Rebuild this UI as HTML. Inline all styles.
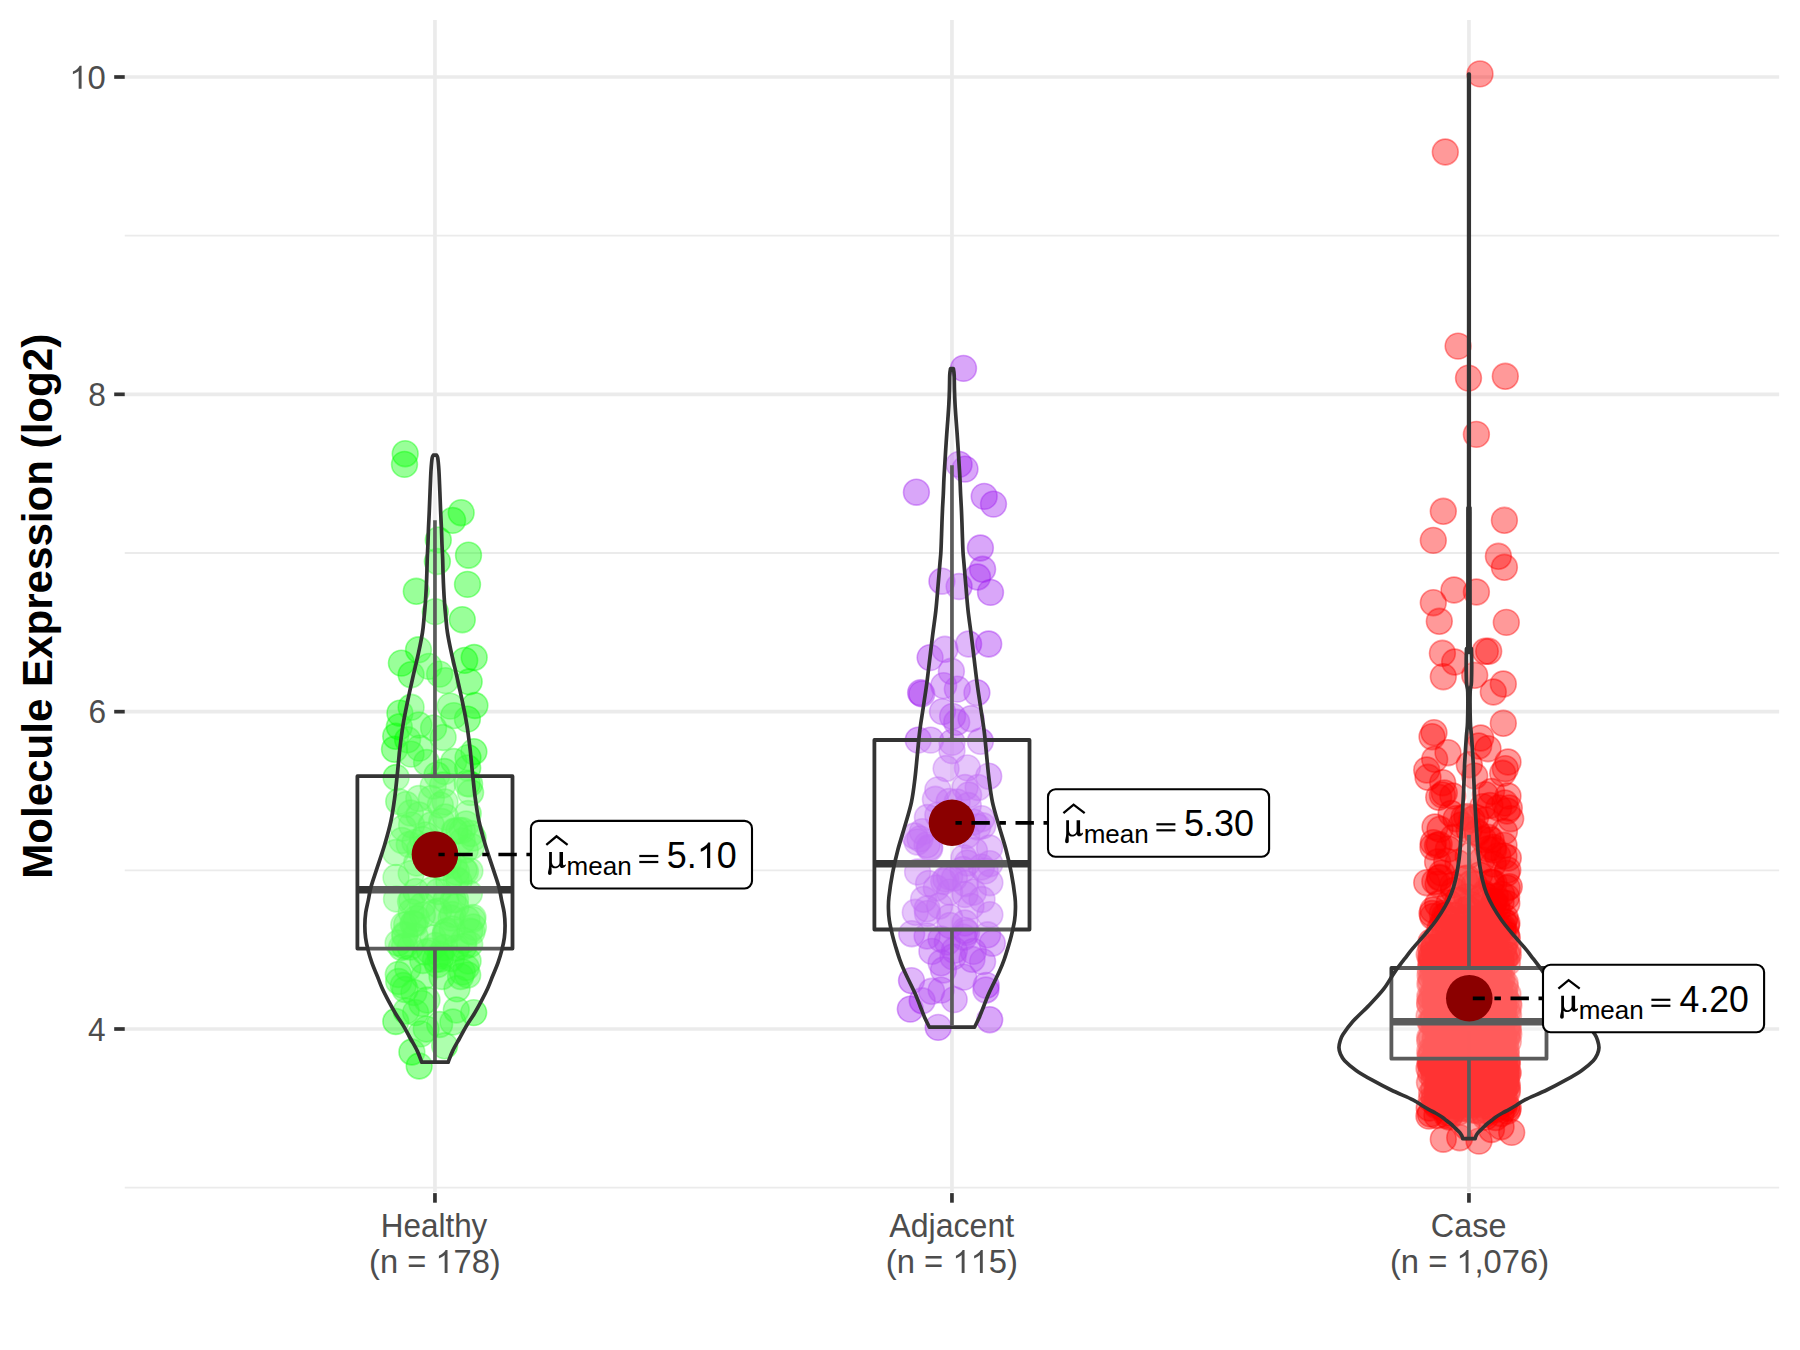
<!DOCTYPE html>
<html><head><meta charset="utf-8"><style>html,body{margin:0;padding:0;background:#fff;}svg{display:block;}</style></head><body>
<svg width="1800" height="1350" viewBox="0 0 1800 1350">
<rect width="1800" height="1350" fill="#fff"/>
<line x1="124.75" x2="1779.15" y1="1187.67" y2="1187.67" stroke="#EBEBEB" stroke-width="1.9"/>
<line x1="124.75" x2="1779.15" y1="870.34" y2="870.34" stroke="#EBEBEB" stroke-width="1.9"/>
<line x1="124.75" x2="1779.15" y1="553.00" y2="553.00" stroke="#EBEBEB" stroke-width="1.9"/>
<line x1="124.75" x2="1779.15" y1="235.67" y2="235.67" stroke="#EBEBEB" stroke-width="1.9"/>
<line x1="124.75" x2="1779.15" y1="1029.00" y2="1029.00" stroke="#EBEBEB" stroke-width="3.6"/>
<line x1="124.75" x2="1779.15" y1="711.67" y2="711.67" stroke="#EBEBEB" stroke-width="3.6"/>
<line x1="124.75" x2="1779.15" y1="394.33" y2="394.33" stroke="#EBEBEB" stroke-width="3.6"/>
<line x1="124.75" x2="1779.15" y1="77.00" y2="77.00" stroke="#EBEBEB" stroke-width="3.6"/>
<line x1="434.95" x2="434.95" y1="20" y2="1192" stroke="#EBEBEB" stroke-width="3.7"/>
<line x1="951.95" x2="951.95" y1="20" y2="1192" stroke="#EBEBEB" stroke-width="3.7"/>
<line x1="1468.95" x2="1468.95" y1="20" y2="1192" stroke="#EBEBEB" stroke-width="3.7"/>
<line x1="114.2" x2="124.75" y1="1029.00" y2="1029.00" stroke="#333" stroke-width="3.7"/>
<line x1="114.2" x2="124.75" y1="711.67" y2="711.67" stroke="#333" stroke-width="3.7"/>
<line x1="114.2" x2="124.75" y1="394.33" y2="394.33" stroke="#333" stroke-width="3.7"/>
<line x1="114.2" x2="124.75" y1="77.00" y2="77.00" stroke="#333" stroke-width="3.7"/>
<line x1="434.95" x2="434.95" y1="1193.1" y2="1202.7" stroke="#333" stroke-width="3.7"/>
<line x1="951.95" x2="951.95" y1="1193.1" y2="1202.7" stroke="#333" stroke-width="3.7"/>
<line x1="1468.95" x2="1468.95" y1="1193.1" y2="1202.7" stroke="#333" stroke-width="3.7"/>
<text x="69.32" y="88.80" font-family='"Liberation Sans", sans-serif' font-size="33.33" fill="#4D4D4D" textLength="36.57" lengthAdjust="spacingAndGlyphs"> 0</text><path d="M81.57,88.80 L78.68,88.80 L78.68,70.93 C77.99,71.57 77.07,72.21 75.95,72.85 C74.81,73.49 73.80,73.97 72.90,74.30 L72.90,71.59 C74.52,70.85 75.93,69.95 77.14,68.91 C78.34,67.86 79.19,66.85 79.69,65.87 L81.57,65.87 Z" fill="#4D4D4D"/>
<text x="88.37" y="406.13" font-family='"Liberation Sans", sans-serif' font-size="33.33" fill="#4D4D4D" textLength="17.61" lengthAdjust="spacingAndGlyphs">8</text>
<text x="88.38" y="723.47" font-family='"Liberation Sans", sans-serif' font-size="33.33" fill="#4D4D4D" textLength="17.61" lengthAdjust="spacingAndGlyphs">6</text>
<text x="87.92" y="1040.80" font-family='"Liberation Sans", sans-serif' font-size="33.33" fill="#4D4D4D" textLength="17.61" lengthAdjust="spacingAndGlyphs">4</text>
<text x="380.72" y="1236.70" font-family='"Liberation Sans", sans-serif' font-size="33.33" fill="#4D4D4D" textLength="106.64" lengthAdjust="spacingAndGlyphs">Healthy</text>
<text x="369.07" y="1272.90" font-family='"Liberation Sans", sans-serif' font-size="33.33" fill="#4D4D4D" textLength="131.65" lengthAdjust="spacingAndGlyphs">(n =  78)</text><path d="M447.52,1272.90 L444.65,1272.90 L444.65,1255.03 C443.96,1255.67 443.05,1256.31 441.93,1256.95 C440.80,1257.59 439.80,1258.07 438.90,1258.40 L438.90,1255.69 C440.51,1254.95 441.92,1254.05 443.11,1253.01 C444.31,1251.96 445.16,1250.95 445.65,1249.97 L447.52,1249.97 Z" fill="#4D4D4D"/>
<text x="889.34" y="1236.70" font-family='"Liberation Sans", sans-serif' font-size="33.33" fill="#4D4D4D" textLength="124.90" lengthAdjust="spacingAndGlyphs">Adjacent</text>
<text x="885.87" y="1272.90" font-family='"Liberation Sans", sans-serif' font-size="33.33" fill="#4D4D4D" textLength="132.06" lengthAdjust="spacingAndGlyphs">(n =   5)</text><path d="M964.56,1272.90 L961.68,1272.90 L961.68,1255.03 C960.99,1255.67 960.08,1256.31 958.96,1256.95 C957.82,1257.59 956.81,1258.07 955.92,1258.40 L955.92,1255.69 C957.53,1254.95 958.94,1254.05 960.14,1253.01 C961.34,1251.96 962.19,1250.95 962.68,1249.97 L964.56,1249.97 Z" fill="#4D4D4D"/><path d="M982.78,1272.90 L979.90,1272.90 L979.90,1255.03 C979.21,1255.67 978.30,1256.31 977.18,1256.95 C976.04,1257.59 975.04,1258.07 974.14,1258.40 L974.14,1255.69 C975.76,1254.95 977.16,1254.05 978.36,1253.01 C979.56,1251.96 980.41,1250.95 980.91,1249.97 L982.78,1249.97 Z" fill="#4D4D4D"/>
<text x="1430.86" y="1236.70" font-family='"Liberation Sans", sans-serif' font-size="33.33" fill="#4D4D4D" textLength="75.58" lengthAdjust="spacingAndGlyphs">Case</text>
<text x="1389.97" y="1272.90" font-family='"Liberation Sans", sans-serif' font-size="33.33" fill="#4D4D4D" textLength="159.06" lengthAdjust="spacingAndGlyphs">(n =  ,076)</text><path d="M1468.49,1272.90 L1465.62,1272.90 L1465.62,1255.03 C1464.93,1255.67 1464.02,1256.31 1462.91,1256.95 C1461.77,1257.59 1460.77,1258.07 1459.87,1258.40 L1459.87,1255.69 C1461.48,1254.95 1462.89,1254.05 1464.09,1253.01 C1465.28,1251.96 1466.13,1250.95 1466.63,1249.97 L1468.49,1249.97 Z" fill="#4D4D4D"/>
<g transform="translate(52,876) rotate(-90)"><text x="-2.82" y="0.00" font-family='"Liberation Sans", sans-serif' font-weight="bold" font-size="42.2" fill="#000" textLength="545.01" lengthAdjust="spacingAndGlyphs">Molecule Expression (log2)</text></g>
<g fill="rgba(0,255,0,0.4)" stroke="rgba(0,255,0,0.4)" stroke-width="1.6">
<circle cx="462.3" cy="972.0" r="12.9"/>
<circle cx="435.5" cy="959.5" r="12.9"/>
<circle cx="469.6" cy="784.0" r="12.9"/>
<circle cx="473.7" cy="1012.6" r="12.9"/>
<circle cx="419.4" cy="748.1" r="12.9"/>
<circle cx="415.0" cy="924.0" r="12.9"/>
<circle cx="458.9" cy="830.5" r="12.9"/>
<circle cx="438.2" cy="891.5" r="12.9"/>
<circle cx="445.0" cy="802.0" r="12.9"/>
<circle cx="437.4" cy="561.5" r="12.9"/>
<circle cx="472.4" cy="919.5" r="12.9"/>
<circle cx="411.1" cy="707.3" r="12.9"/>
<circle cx="396.1" cy="777.5" r="12.9"/>
<circle cx="460.6" cy="976.5" r="12.9"/>
<circle cx="467.7" cy="975.0" r="12.9"/>
<circle cx="404.5" cy="464.4" r="12.9"/>
<circle cx="403.8" cy="925.0" r="12.9"/>
<circle cx="410.4" cy="813.0" r="12.9"/>
<circle cx="421.8" cy="1003.5" r="12.9"/>
<circle cx="443.1" cy="737.5" r="12.9"/>
<circle cx="412.8" cy="924.0" r="12.9"/>
<circle cx="445.1" cy="935.0" r="12.9"/>
<circle cx="396.0" cy="877.5" r="12.9"/>
<circle cx="456.3" cy="1010.0" r="12.9"/>
<circle cx="438.3" cy="540.0" r="12.9"/>
<circle cx="394.5" cy="749.3" r="12.9"/>
<circle cx="442.2" cy="867.5" r="12.9"/>
<circle cx="444.4" cy="771.5" r="12.9"/>
<circle cx="419.2" cy="1066.0" r="12.9"/>
<circle cx="416.6" cy="918.5" r="12.9"/>
<circle cx="452.9" cy="1022.0" r="12.9"/>
<circle cx="473.4" cy="927.0" r="12.9"/>
<circle cx="405.2" cy="453.7" r="12.9"/>
<circle cx="411.2" cy="873.5" r="12.9"/>
<circle cx="473.0" cy="917.5" r="12.9"/>
<circle cx="416.7" cy="863.0" r="12.9"/>
<circle cx="463.9" cy="940.5" r="12.9"/>
<circle cx="467.7" cy="768.0" r="12.9"/>
<circle cx="427.0" cy="1000.0" r="12.9"/>
<circle cx="446.0" cy="900.5" r="12.9"/>
<circle cx="464.0" cy="870.0" r="12.9"/>
<circle cx="465.3" cy="850.0" r="12.9"/>
<circle cx="463.8" cy="946.5" r="12.9"/>
<circle cx="455.9" cy="907.0" r="12.9"/>
<circle cx="431.6" cy="890.0" r="12.9"/>
<circle cx="418.8" cy="725.0" r="12.9"/>
<circle cx="404.6" cy="946.0" r="12.9"/>
<circle cx="398.1" cy="943.0" r="12.9"/>
<circle cx="468.0" cy="757.6" r="12.9"/>
<circle cx="465.5" cy="871.5" r="12.9"/>
<circle cx="433.6" cy="728.0" r="12.9"/>
<circle cx="439.6" cy="1024.5" r="12.9"/>
<circle cx="433.1" cy="938.0" r="12.9"/>
<circle cx="395.7" cy="852.5" r="12.9"/>
<circle cx="472.0" cy="932.0" r="12.9"/>
<circle cx="467.4" cy="719.1" r="12.9"/>
<circle cx="448.9" cy="881.5" r="12.9"/>
<circle cx="429.6" cy="951.0" r="12.9"/>
<circle cx="447.0" cy="931.0" r="12.9"/>
<circle cx="448.3" cy="862.0" r="12.9"/>
<circle cx="422.4" cy="915.0" r="12.9"/>
<circle cx="411.1" cy="674.7" r="12.9"/>
<circle cx="452.6" cy="520.4" r="12.9"/>
<circle cx="419.7" cy="849.0" r="12.9"/>
<circle cx="402.0" cy="840.5" r="12.9"/>
<circle cx="404.8" cy="934.5" r="12.9"/>
<circle cx="431.3" cy="825.0" r="12.9"/>
<circle cx="435.5" cy="945.5" r="12.9"/>
<circle cx="461.2" cy="512.7" r="12.9"/>
<circle cx="444.4" cy="947.5" r="12.9"/>
<circle cx="431.4" cy="798.5" r="12.9"/>
<circle cx="411.6" cy="825.0" r="12.9"/>
<circle cx="469.4" cy="893.5" r="12.9"/>
<circle cx="452.6" cy="914.5" r="12.9"/>
<circle cx="420.8" cy="1033.9" r="12.9"/>
<circle cx="416.3" cy="591.3" r="12.9"/>
<circle cx="455.3" cy="831.5" r="12.9"/>
<circle cx="426.6" cy="762.5" r="12.9"/>
<circle cx="470.9" cy="833.5" r="12.9"/>
<circle cx="403.3" cy="985.5" r="12.9"/>
<circle cx="467.5" cy="584.4" r="12.9"/>
<circle cx="459.0" cy="881.5" r="12.9"/>
<circle cx="453.8" cy="761.5" r="12.9"/>
<circle cx="467.2" cy="783.5" r="12.9"/>
<circle cx="456.3" cy="948.0" r="12.9"/>
<circle cx="457.0" cy="988.8" r="12.9"/>
<circle cx="406.1" cy="804.5" r="12.9"/>
<circle cx="425.5" cy="835.0" r="12.9"/>
<circle cx="395.8" cy="1021.5" r="12.9"/>
<circle cx="424.0" cy="976.5" r="12.9"/>
<circle cx="410.5" cy="901.5" r="12.9"/>
<circle cx="440.4" cy="954.0" r="12.9"/>
<circle cx="468.5" cy="555.2" r="12.9"/>
<circle cx="418.8" cy="798.5" r="12.9"/>
<circle cx="462.2" cy="841.0" r="12.9"/>
<circle cx="469.2" cy="681.8" r="12.9"/>
<circle cx="442.0" cy="976.5" r="12.9"/>
<circle cx="414.9" cy="842.5" r="12.9"/>
<circle cx="399.9" cy="713.2" r="12.9"/>
<circle cx="409.2" cy="844.5" r="12.9"/>
<circle cx="405.1" cy="989.5" r="12.9"/>
<circle cx="441.7" cy="821.5" r="12.9"/>
<circle cx="419.0" cy="815.0" r="12.9"/>
<circle cx="434.4" cy="912.5" r="12.9"/>
<circle cx="440.3" cy="805.0" r="12.9"/>
<circle cx="438.8" cy="911.0" r="12.9"/>
<circle cx="469.8" cy="931.0" r="12.9"/>
<circle cx="415.6" cy="1012.6" r="12.9"/>
<circle cx="413.9" cy="992.5" r="12.9"/>
<circle cx="452.3" cy="929.0" r="12.9"/>
<circle cx="473.1" cy="838.0" r="12.9"/>
<circle cx="466.2" cy="967.5" r="12.9"/>
<circle cx="462.3" cy="619.7" r="12.9"/>
<circle cx="466.2" cy="824.0" r="12.9"/>
<circle cx="412.0" cy="900.0" r="12.9"/>
<circle cx="426.1" cy="846.0" r="12.9"/>
<circle cx="437.0" cy="775.0" r="12.9"/>
<circle cx="468.1" cy="961.0" r="12.9"/>
<circle cx="445.4" cy="817.0" r="12.9"/>
<circle cx="398.3" cy="974.5" r="12.9"/>
<circle cx="398.7" cy="801.5" r="12.9"/>
<circle cx="407.8" cy="968.5" r="12.9"/>
<circle cx="453.2" cy="900.0" r="12.9"/>
<circle cx="433.2" cy="786.0" r="12.9"/>
<circle cx="404.9" cy="936.0" r="12.9"/>
<circle cx="444.6" cy="1045.8" r="12.9"/>
<circle cx="470.6" cy="792.5" r="12.9"/>
<circle cx="426.2" cy="1029.0" r="12.9"/>
<circle cx="462.3" cy="830.5" r="12.9"/>
<circle cx="456.4" cy="872.0" r="12.9"/>
<circle cx="422.8" cy="960.5" r="12.9"/>
<circle cx="445.5" cy="680.6" r="12.9"/>
<circle cx="401.5" cy="947.5" r="12.9"/>
<circle cx="398.7" cy="981.5" r="12.9"/>
<circle cx="437.6" cy="964.5" r="12.9"/>
<circle cx="399.3" cy="726.8" r="12.9"/>
<circle cx="451.4" cy="958.5" r="12.9"/>
<circle cx="406.7" cy="924.5" r="12.9"/>
<circle cx="395.7" cy="736.3" r="12.9"/>
<circle cx="403.4" cy="828.0" r="12.9"/>
<circle cx="411.1" cy="754.1" r="12.9"/>
<circle cx="413.6" cy="923.5" r="12.9"/>
<circle cx="415.2" cy="936.5" r="12.9"/>
<circle cx="473.9" cy="751.7" r="12.9"/>
<circle cx="441.7" cy="956.0" r="12.9"/>
<circle cx="418.5" cy="649.8" r="12.9"/>
<circle cx="471.4" cy="846.5" r="12.9"/>
<circle cx="455.5" cy="899.5" r="12.9"/>
<circle cx="454.4" cy="831.0" r="12.9"/>
<circle cx="468.2" cy="813.5" r="12.9"/>
<circle cx="411.2" cy="912.0" r="12.9"/>
<circle cx="456.2" cy="879.5" r="12.9"/>
<circle cx="467.0" cy="919.5" r="12.9"/>
<circle cx="407.6" cy="739.8" r="12.9"/>
<circle cx="425.3" cy="952.0" r="12.9"/>
<circle cx="439.6" cy="674.1" r="12.9"/>
<circle cx="410.2" cy="947.0" r="12.9"/>
<circle cx="406.2" cy="1011.0" r="12.9"/>
<circle cx="474.9" cy="705.5" r="12.9"/>
<circle cx="440.2" cy="959.0" r="12.9"/>
<circle cx="464.7" cy="660.4" r="12.9"/>
<circle cx="415.8" cy="891.5" r="12.9"/>
<circle cx="469.9" cy="871.0" r="12.9"/>
<circle cx="450.2" cy="706.1" r="12.9"/>
<circle cx="435.3" cy="611.6" r="12.9"/>
<circle cx="422.7" cy="839.5" r="12.9"/>
<circle cx="445.6" cy="932.0" r="12.9"/>
<circle cx="428.9" cy="666.4" r="12.9"/>
<circle cx="454.0" cy="865.5" r="12.9"/>
<circle cx="451.0" cy="918.0" r="12.9"/>
<circle cx="453.8" cy="715.6" r="12.9"/>
<circle cx="396.5" cy="899.0" r="12.9"/>
<circle cx="474.2" cy="657.5" r="12.9"/>
<circle cx="401.4" cy="663.1" r="12.9"/>
<circle cx="469.7" cy="944.5" r="12.9"/>
<circle cx="422.4" cy="905.5" r="12.9"/>
<circle cx="411.9" cy="1052.0" r="12.9"/>
<circle cx="442.6" cy="785.0" r="12.9"/>
</g>
<g fill="rgba(160,32,240,0.4)" stroke="rgba(160,32,240,0.4)" stroke-width="1.6">
<circle cx="973.5" cy="822.0" r="12.9"/>
<circle cx="965.1" cy="930.5" r="12.9"/>
<circle cx="981.5" cy="867.0" r="12.9"/>
<circle cx="941.1" cy="962.8" r="12.9"/>
<circle cx="976.9" cy="692.7" r="12.9"/>
<circle cx="917.2" cy="842.0" r="12.9"/>
<circle cx="927.1" cy="844.8" r="12.9"/>
<circle cx="928.6" cy="883.5" r="12.9"/>
<circle cx="973.3" cy="892.2" r="12.9"/>
<circle cx="985.9" cy="990.0" r="12.9"/>
<circle cx="930.1" cy="657.6" r="12.9"/>
<circle cx="952.6" cy="716.4" r="12.9"/>
<circle cx="910.3" cy="1009.1" r="12.9"/>
<circle cx="915.3" cy="912.3" r="12.9"/>
<circle cx="981.6" cy="818.7" r="12.9"/>
<circle cx="982.6" cy="961.6" r="12.9"/>
<circle cx="959.1" cy="464.4" r="12.9"/>
<circle cx="943.7" cy="881.5" r="12.9"/>
<circle cx="992.3" cy="943.2" r="12.9"/>
<circle cx="986.2" cy="985.4" r="12.9"/>
<circle cx="978.1" cy="787.5" r="12.9"/>
<circle cx="963.5" cy="368.4" r="12.9"/>
<circle cx="973.3" cy="951.4" r="12.9"/>
<circle cx="931.9" cy="951.4" r="12.9"/>
<circle cx="972.0" cy="959.3" r="12.9"/>
<circle cx="957.1" cy="802.0" r="12.9"/>
<circle cx="989.9" cy="882.7" r="12.9"/>
<circle cx="950.0" cy="925.5" r="12.9"/>
<circle cx="989.6" cy="848.0" r="12.9"/>
<circle cx="989.9" cy="914.7" r="12.9"/>
<circle cx="971.0" cy="718.7" r="12.9"/>
<circle cx="947.3" cy="942.0" r="12.9"/>
<circle cx="937.8" cy="815.1" r="12.9"/>
<circle cx="923.6" cy="899.3" r="12.9"/>
<circle cx="922.2" cy="1000.8" r="12.9"/>
<circle cx="922.4" cy="831.7" r="12.9"/>
<circle cx="939.6" cy="906.0" r="12.9"/>
<circle cx="921.8" cy="693.9" r="12.9"/>
<circle cx="941.1" cy="990.1" r="12.9"/>
<circle cx="967.4" cy="767.9" r="12.9"/>
<circle cx="968.3" cy="805.5" r="12.9"/>
<circle cx="982.8" cy="825.8" r="12.9"/>
<circle cx="989.7" cy="1019.7" r="12.9"/>
<circle cx="957.3" cy="689.1" r="12.9"/>
<circle cx="929.5" cy="847.1" r="12.9"/>
<circle cx="927.5" cy="913.5" r="12.9"/>
<circle cx="980.4" cy="548.0" r="12.9"/>
<circle cx="968.6" cy="795.0" r="12.9"/>
<circle cx="963.7" cy="977.1" r="12.9"/>
<circle cx="914.7" cy="836.0" r="12.9"/>
<circle cx="954.4" cy="950.3" r="12.9"/>
<circle cx="930.7" cy="740.1" r="12.9"/>
<circle cx="942.5" cy="711.6" r="12.9"/>
<circle cx="965.0" cy="787.5" r="12.9"/>
<circle cx="987.6" cy="934.8" r="12.9"/>
<circle cx="952.0" cy="742.4" r="12.9"/>
<circle cx="949.6" cy="917.1" r="12.9"/>
<circle cx="974.5" cy="850.7" r="12.9"/>
<circle cx="965.0" cy="894.5" r="12.9"/>
<circle cx="935.4" cy="799.3" r="12.9"/>
<circle cx="949.6" cy="892.2" r="12.9"/>
<circle cx="938.2" cy="1027.4" r="12.9"/>
<circle cx="990.5" cy="592.4" r="12.9"/>
<circle cx="927.4" cy="817.5" r="12.9"/>
<circle cx="929.7" cy="848.5" r="12.9"/>
<circle cx="984.2" cy="496.4" r="12.9"/>
<circle cx="911.5" cy="980.6" r="12.9"/>
<circle cx="920.6" cy="692.7" r="12.9"/>
<circle cx="965.5" cy="883.5" r="12.9"/>
<circle cx="931.6" cy="991.3" r="12.9"/>
<circle cx="949.7" cy="877.0" r="12.9"/>
<circle cx="966.7" cy="835.5" r="12.9"/>
<circle cx="952.0" cy="750.7" r="12.9"/>
<circle cx="920.0" cy="838.9" r="12.9"/>
<circle cx="982.6" cy="569.3" r="12.9"/>
<circle cx="968.6" cy="644.0" r="12.9"/>
<circle cx="943.5" cy="970.0" r="12.9"/>
<circle cx="962.9" cy="869.5" r="12.9"/>
<circle cx="977.5" cy="577.0" r="12.9"/>
<circle cx="988.7" cy="644.0" r="12.9"/>
<circle cx="988.7" cy="776.2" r="12.9"/>
<circle cx="944.9" cy="649.3" r="12.9"/>
<circle cx="982.0" cy="899.5" r="12.9"/>
<circle cx="971.0" cy="906.4" r="12.9"/>
<circle cx="985.2" cy="870.9" r="12.9"/>
<circle cx="963.9" cy="937.2" r="12.9"/>
<circle cx="937.8" cy="789.9" r="12.9"/>
<circle cx="965.0" cy="469.1" r="12.9"/>
<circle cx="966.6" cy="932.5" r="12.9"/>
<circle cx="936.3" cy="888.0" r="12.9"/>
<circle cx="959.1" cy="586.5" r="12.9"/>
<circle cx="945.8" cy="879.0" r="12.9"/>
<circle cx="941.0" cy="939.0" r="12.9"/>
<circle cx="953.0" cy="956.9" r="12.9"/>
<circle cx="911.7" cy="933.7" r="12.9"/>
<circle cx="917.6" cy="872.0" r="12.9"/>
<circle cx="977.8" cy="827.0" r="12.9"/>
<circle cx="965.0" cy="923.0" r="12.9"/>
<circle cx="927.1" cy="908.8" r="12.9"/>
<circle cx="916.4" cy="492.2" r="12.9"/>
<circle cx="954.2" cy="999.6" r="12.9"/>
<circle cx="954.4" cy="878.0" r="12.9"/>
<circle cx="918.2" cy="740.1" r="12.9"/>
<circle cx="927.1" cy="936.0" r="12.9"/>
<circle cx="949.1" cy="801.5" r="12.9"/>
<circle cx="946.1" cy="768.5" r="12.9"/>
<circle cx="943.7" cy="685.6" r="12.9"/>
<circle cx="941.9" cy="581.2" r="12.9"/>
<circle cx="993.5" cy="504.1" r="12.9"/>
<circle cx="967.3" cy="863.0" r="12.9"/>
<circle cx="956.7" cy="722.3" r="12.9"/>
<circle cx="951.4" cy="671.3" r="12.9"/>
<circle cx="989.9" cy="863.7" r="12.9"/>
<circle cx="963.9" cy="857.8" r="12.9"/>
<circle cx="980.4" cy="741.3" r="12.9"/>
</g>
<g fill="rgba(255,0,0,0.4)" stroke="rgba(255,0,0,0.4)" stroke-width="1.6">
<circle cx="1462.4" cy="1061.0" r="12.9"/>
<circle cx="1501.0" cy="1026.5" r="12.9"/>
<circle cx="1461.0" cy="1057.0" r="12.9"/>
<circle cx="1453.6" cy="890.5" r="12.9"/>
<circle cx="1489.2" cy="1030.5" r="12.9"/>
<circle cx="1490.5" cy="997.5" r="12.9"/>
<circle cx="1492.4" cy="1009.0" r="12.9"/>
<circle cx="1441.3" cy="1075.0" r="12.9"/>
<circle cx="1470.8" cy="904.5" r="12.9"/>
<circle cx="1488.4" cy="960.0" r="12.9"/>
<circle cx="1490.7" cy="1059.0" r="12.9"/>
<circle cx="1430.4" cy="1114.0" r="12.9"/>
<circle cx="1496.1" cy="1061.0" r="12.9"/>
<circle cx="1429.1" cy="1016.0" r="12.9"/>
<circle cx="1440.8" cy="1096.0" r="12.9"/>
<circle cx="1441.0" cy="1004.0" r="12.9"/>
<circle cx="1506.4" cy="934.5" r="12.9"/>
<circle cx="1467.2" cy="999.5" r="12.9"/>
<circle cx="1454.9" cy="1059.0" r="12.9"/>
<circle cx="1454.0" cy="1095.5" r="12.9"/>
<circle cx="1498.9" cy="1095.5" r="12.9"/>
<circle cx="1470.8" cy="1048.0" r="12.9"/>
<circle cx="1449.8" cy="1089.5" r="12.9"/>
<circle cx="1435.3" cy="1055.5" r="12.9"/>
<circle cx="1457.5" cy="988.0" r="12.9"/>
<circle cx="1454.4" cy="1039.0" r="12.9"/>
<circle cx="1471.0" cy="1089.5" r="12.9"/>
<circle cx="1489.8" cy="1092.0" r="12.9"/>
<circle cx="1485.7" cy="1050.0" r="12.9"/>
<circle cx="1500.4" cy="1019.5" r="12.9"/>
<circle cx="1472.2" cy="1036.0" r="12.9"/>
<circle cx="1462.9" cy="955.0" r="12.9"/>
<circle cx="1504.4" cy="945.0" r="12.9"/>
<circle cx="1481.7" cy="1021.5" r="12.9"/>
<circle cx="1494.0" cy="883.0" r="12.9"/>
<circle cx="1429.2" cy="1108.0" r="12.9"/>
<circle cx="1483.2" cy="1033.5" r="12.9"/>
<circle cx="1491.3" cy="1020.0" r="12.9"/>
<circle cx="1508.3" cy="955.0" r="12.9"/>
<circle cx="1450.7" cy="943.5" r="12.9"/>
<circle cx="1451.2" cy="1113.5" r="12.9"/>
<circle cx="1487.6" cy="955.0" r="12.9"/>
<circle cx="1456.6" cy="1027.5" r="12.9"/>
<circle cx="1504.0" cy="1069.0" r="12.9"/>
<circle cx="1478.6" cy="945.0" r="12.9"/>
<circle cx="1506.8" cy="903.5" r="12.9"/>
<circle cx="1489.3" cy="1060.5" r="12.9"/>
<circle cx="1500.8" cy="961.0" r="12.9"/>
<circle cx="1447.4" cy="981.0" r="12.9"/>
<circle cx="1477.1" cy="1039.5" r="12.9"/>
<circle cx="1465.5" cy="1052.5" r="12.9"/>
<circle cx="1460.2" cy="983.5" r="12.9"/>
<circle cx="1443.6" cy="1070.5" r="12.9"/>
<circle cx="1458.8" cy="1035.0" r="12.9"/>
<circle cx="1442.6" cy="1036.0" r="12.9"/>
<circle cx="1504.7" cy="1059.0" r="12.9"/>
<circle cx="1449.7" cy="953.0" r="12.9"/>
<circle cx="1437.9" cy="1088.0" r="12.9"/>
<circle cx="1464.3" cy="1068.5" r="12.9"/>
<circle cx="1455.4" cy="927.5" r="12.9"/>
<circle cx="1440.1" cy="928.5" r="12.9"/>
<circle cx="1458.1" cy="1030.5" r="12.9"/>
<circle cx="1459.6" cy="940.0" r="12.9"/>
<circle cx="1493.3" cy="864.0" r="12.9"/>
<circle cx="1467.5" cy="1038.0" r="12.9"/>
<circle cx="1459.5" cy="957.5" r="12.9"/>
<circle cx="1433.0" cy="1020.0" r="12.9"/>
<circle cx="1443.9" cy="1103.5" r="12.9"/>
<circle cx="1437.0" cy="937.5" r="12.9"/>
<circle cx="1432.8" cy="916.5" r="12.9"/>
<circle cx="1454.6" cy="978.0" r="12.9"/>
<circle cx="1450.6" cy="1071.5" r="12.9"/>
<circle cx="1469.6" cy="1047.5" r="12.9"/>
<circle cx="1433.7" cy="947.5" r="12.9"/>
<circle cx="1492.9" cy="1074.5" r="12.9"/>
<circle cx="1469.7" cy="1071.0" r="12.9"/>
<circle cx="1478.2" cy="946.0" r="12.9"/>
<circle cx="1505.7" cy="1085.5" r="12.9"/>
<circle cx="1439.2" cy="844.5" r="12.9"/>
<circle cx="1507.2" cy="888.0" r="12.9"/>
<circle cx="1487.9" cy="1083.5" r="12.9"/>
<circle cx="1437.3" cy="1092.5" r="12.9"/>
<circle cx="1498.4" cy="971.0" r="12.9"/>
<circle cx="1452.1" cy="963.5" r="12.9"/>
<circle cx="1464.7" cy="1001.5" r="12.9"/>
<circle cx="1462.7" cy="970.5" r="12.9"/>
<circle cx="1508.9" cy="1005.5" r="12.9"/>
<circle cx="1445.1" cy="983.5" r="12.9"/>
<circle cx="1493.8" cy="1080.5" r="12.9"/>
<circle cx="1438.9" cy="1076.0" r="12.9"/>
<circle cx="1452.0" cy="1045.0" r="12.9"/>
<circle cx="1439.2" cy="997.5" r="12.9"/>
<circle cx="1499.3" cy="987.5" r="12.9"/>
<circle cx="1482.5" cy="1048.5" r="12.9"/>
<circle cx="1434.0" cy="732.7" r="12.9"/>
<circle cx="1456.3" cy="1047.0" r="12.9"/>
<circle cx="1475.2" cy="965.0" r="12.9"/>
<circle cx="1499.1" cy="1041.0" r="12.9"/>
<circle cx="1487.7" cy="973.0" r="12.9"/>
<circle cx="1469.9" cy="1030.0" r="12.9"/>
<circle cx="1438.5" cy="1093.0" r="12.9"/>
<circle cx="1466.9" cy="1043.5" r="12.9"/>
<circle cx="1495.3" cy="1068.0" r="12.9"/>
<circle cx="1494.0" cy="1002.5" r="12.9"/>
<circle cx="1442.1" cy="980.0" r="12.9"/>
<circle cx="1456.1" cy="1009.5" r="12.9"/>
<circle cx="1441.9" cy="979.0" r="12.9"/>
<circle cx="1435.4" cy="969.5" r="12.9"/>
<circle cx="1429.8" cy="996.5" r="12.9"/>
<circle cx="1460.1" cy="1065.5" r="12.9"/>
<circle cx="1445.0" cy="960.5" r="12.9"/>
<circle cx="1474.3" cy="1040.5" r="12.9"/>
<circle cx="1501.5" cy="961.0" r="12.9"/>
<circle cx="1484.1" cy="1070.0" r="12.9"/>
<circle cx="1455.3" cy="1012.0" r="12.9"/>
<circle cx="1444.7" cy="1069.0" r="12.9"/>
<circle cx="1445.9" cy="999.0" r="12.9"/>
<circle cx="1473.7" cy="937.5" r="12.9"/>
<circle cx="1456.6" cy="1021.0" r="12.9"/>
<circle cx="1497.1" cy="1068.0" r="12.9"/>
<circle cx="1439.9" cy="1046.5" r="12.9"/>
<circle cx="1506.9" cy="1038.0" r="12.9"/>
<circle cx="1436.9" cy="1034.0" r="12.9"/>
<circle cx="1463.3" cy="910.5" r="12.9"/>
<circle cx="1429.8" cy="1051.0" r="12.9"/>
<circle cx="1480.6" cy="1052.5" r="12.9"/>
<circle cx="1433.7" cy="1061.5" r="12.9"/>
<circle cx="1432.3" cy="996.0" r="12.9"/>
<circle cx="1505.2" cy="917.5" r="12.9"/>
<circle cx="1464.7" cy="1046.0" r="12.9"/>
<circle cx="1447.5" cy="1102.5" r="12.9"/>
<circle cx="1490.2" cy="1017.5" r="12.9"/>
<circle cx="1449.9" cy="990.0" r="12.9"/>
<circle cx="1464.0" cy="817.3" r="12.9"/>
<circle cx="1474.7" cy="993.5" r="12.9"/>
<circle cx="1488.1" cy="953.0" r="12.9"/>
<circle cx="1508.1" cy="949.0" r="12.9"/>
<circle cx="1462.5" cy="1077.5" r="12.9"/>
<circle cx="1431.0" cy="1063.0" r="12.9"/>
<circle cx="1438.5" cy="1033.5" r="12.9"/>
<circle cx="1432.6" cy="959.5" r="12.9"/>
<circle cx="1479.6" cy="875.0" r="12.9"/>
<circle cx="1490.0" cy="1043.0" r="12.9"/>
<circle cx="1451.5" cy="1084.5" r="12.9"/>
<circle cx="1507.3" cy="963.0" r="12.9"/>
<circle cx="1507.2" cy="955.0" r="12.9"/>
<circle cx="1497.8" cy="1033.0" r="12.9"/>
<circle cx="1506.1" cy="1054.5" r="12.9"/>
<circle cx="1491.1" cy="1108.0" r="12.9"/>
<circle cx="1468.9" cy="1100.0" r="12.9"/>
<circle cx="1445.3" cy="152.0" r="12.9"/>
<circle cx="1468.1" cy="971.0" r="12.9"/>
<circle cx="1486.8" cy="992.5" r="12.9"/>
<circle cx="1474.6" cy="1078.5" r="12.9"/>
<circle cx="1470.3" cy="1055.5" r="12.9"/>
<circle cx="1496.4" cy="1017.0" r="12.9"/>
<circle cx="1460.8" cy="972.5" r="12.9"/>
<circle cx="1498.2" cy="1038.0" r="12.9"/>
<circle cx="1444.3" cy="793.0" r="12.9"/>
<circle cx="1507.3" cy="938.0" r="12.9"/>
<circle cx="1449.7" cy="996.0" r="12.9"/>
<circle cx="1488.8" cy="1063.5" r="12.9"/>
<circle cx="1507.0" cy="1061.5" r="12.9"/>
<circle cx="1448.3" cy="1084.0" r="12.9"/>
<circle cx="1493.6" cy="1058.0" r="12.9"/>
<circle cx="1491.0" cy="1014.5" r="12.9"/>
<circle cx="1467.4" cy="959.0" r="12.9"/>
<circle cx="1491.6" cy="791.5" r="12.9"/>
<circle cx="1475.4" cy="954.5" r="12.9"/>
<circle cx="1485.5" cy="899.5" r="12.9"/>
<circle cx="1507.9" cy="994.0" r="12.9"/>
<circle cx="1504.0" cy="1006.0" r="12.9"/>
<circle cx="1446.0" cy="1018.5" r="12.9"/>
<circle cx="1478.9" cy="985.5" r="12.9"/>
<circle cx="1477.8" cy="976.5" r="12.9"/>
<circle cx="1502.2" cy="979.0" r="12.9"/>
<circle cx="1434.7" cy="759.3" r="12.9"/>
<circle cx="1505.7" cy="1053.0" r="12.9"/>
<circle cx="1466.2" cy="962.0" r="12.9"/>
<circle cx="1507.4" cy="1089.5" r="12.9"/>
<circle cx="1502.1" cy="1038.0" r="12.9"/>
<circle cx="1449.1" cy="1117.0" r="12.9"/>
<circle cx="1499.7" cy="969.0" r="12.9"/>
<circle cx="1439.2" cy="1037.0" r="12.9"/>
<circle cx="1482.7" cy="806.7" r="12.9"/>
<circle cx="1505.1" cy="983.0" r="12.9"/>
<circle cx="1447.9" cy="1053.0" r="12.9"/>
<circle cx="1451.3" cy="992.5" r="12.9"/>
<circle cx="1483.4" cy="1026.5" r="12.9"/>
<circle cx="1442.6" cy="1036.0" r="12.9"/>
<circle cx="1459.7" cy="1081.5" r="12.9"/>
<circle cx="1474.3" cy="1023.5" r="12.9"/>
<circle cx="1447.1" cy="1044.0" r="12.9"/>
<circle cx="1480.6" cy="923.0" r="12.9"/>
<circle cx="1462.8" cy="1049.0" r="12.9"/>
<circle cx="1429.7" cy="1003.0" r="12.9"/>
<circle cx="1483.7" cy="975.5" r="12.9"/>
<circle cx="1452.2" cy="1067.0" r="12.9"/>
<circle cx="1471.1" cy="981.5" r="12.9"/>
<circle cx="1453.8" cy="932.5" r="12.9"/>
<circle cx="1502.7" cy="1052.5" r="12.9"/>
<circle cx="1461.4" cy="825.0" r="12.9"/>
<circle cx="1483.9" cy="988.5" r="12.9"/>
<circle cx="1477.3" cy="832.0" r="12.9"/>
<circle cx="1484.7" cy="1092.0" r="12.9"/>
<circle cx="1430.8" cy="963.5" r="12.9"/>
<circle cx="1444.8" cy="915.5" r="12.9"/>
<circle cx="1431.3" cy="959.5" r="12.9"/>
<circle cx="1479.5" cy="1045.0" r="12.9"/>
<circle cx="1508.4" cy="1003.5" r="12.9"/>
<circle cx="1467.9" cy="994.5" r="12.9"/>
<circle cx="1479.0" cy="1141.1" r="12.9"/>
<circle cx="1442.5" cy="1107.5" r="12.9"/>
<circle cx="1474.0" cy="1052.0" r="12.9"/>
<circle cx="1492.7" cy="1061.0" r="12.9"/>
<circle cx="1503.1" cy="1086.0" r="12.9"/>
<circle cx="1471.2" cy="910.5" r="12.9"/>
<circle cx="1503.4" cy="1061.5" r="12.9"/>
<circle cx="1495.0" cy="989.5" r="12.9"/>
<circle cx="1479.6" cy="1066.5" r="12.9"/>
<circle cx="1440.4" cy="1022.5" r="12.9"/>
<circle cx="1481.4" cy="1076.5" r="12.9"/>
<circle cx="1448.6" cy="1055.0" r="12.9"/>
<circle cx="1459.7" cy="952.5" r="12.9"/>
<circle cx="1485.5" cy="896.0" r="12.9"/>
<circle cx="1507.9" cy="1073.5" r="12.9"/>
<circle cx="1470.5" cy="1041.0" r="12.9"/>
<circle cx="1501.1" cy="902.0" r="12.9"/>
<circle cx="1449.0" cy="974.5" r="12.9"/>
<circle cx="1463.2" cy="1039.0" r="12.9"/>
<circle cx="1458.7" cy="1101.5" r="12.9"/>
<circle cx="1430.8" cy="956.0" r="12.9"/>
<circle cx="1438.7" cy="1059.0" r="12.9"/>
<circle cx="1497.5" cy="1000.0" r="12.9"/>
<circle cx="1493.3" cy="692.0" r="12.9"/>
<circle cx="1455.0" cy="1092.0" r="12.9"/>
<circle cx="1436.5" cy="1105.5" r="12.9"/>
<circle cx="1434.4" cy="1100.0" r="12.9"/>
<circle cx="1481.5" cy="1023.0" r="12.9"/>
<circle cx="1438.7" cy="979.5" r="12.9"/>
<circle cx="1487.7" cy="1111.0" r="12.9"/>
<circle cx="1452.7" cy="920.5" r="12.9"/>
<circle cx="1442.1" cy="1017.0" r="12.9"/>
<circle cx="1462.7" cy="1072.5" r="12.9"/>
<circle cx="1435.7" cy="1002.5" r="12.9"/>
<circle cx="1431.1" cy="1001.5" r="12.9"/>
<circle cx="1487.9" cy="849.0" r="12.9"/>
<circle cx="1503.2" cy="1086.5" r="12.9"/>
<circle cx="1443.6" cy="974.5" r="12.9"/>
<circle cx="1487.8" cy="1080.5" r="12.9"/>
<circle cx="1435.0" cy="827.0" r="12.9"/>
<circle cx="1493.3" cy="904.0" r="12.9"/>
<circle cx="1482.5" cy="1000.5" r="12.9"/>
<circle cx="1446.6" cy="963.0" r="12.9"/>
<circle cx="1431.7" cy="1093.0" r="12.9"/>
<circle cx="1487.8" cy="926.0" r="12.9"/>
<circle cx="1486.9" cy="1043.0" r="12.9"/>
<circle cx="1474.1" cy="1033.5" r="12.9"/>
<circle cx="1434.3" cy="947.5" r="12.9"/>
<circle cx="1456.1" cy="1010.5" r="12.9"/>
<circle cx="1466.6" cy="1025.0" r="12.9"/>
<circle cx="1452.7" cy="1064.5" r="12.9"/>
<circle cx="1461.2" cy="1012.0" r="12.9"/>
<circle cx="1491.6" cy="882.0" r="12.9"/>
<circle cx="1438.6" cy="1003.0" r="12.9"/>
<circle cx="1460.2" cy="1075.0" r="12.9"/>
<circle cx="1484.0" cy="895.5" r="12.9"/>
<circle cx="1436.1" cy="1051.0" r="12.9"/>
<circle cx="1473.7" cy="943.0" r="12.9"/>
<circle cx="1463.6" cy="1042.5" r="12.9"/>
<circle cx="1430.8" cy="998.0" r="12.9"/>
<circle cx="1472.4" cy="1054.5" r="12.9"/>
<circle cx="1446.5" cy="1038.0" r="12.9"/>
<circle cx="1441.3" cy="1014.0" r="12.9"/>
<circle cx="1456.0" cy="1008.5" r="12.9"/>
<circle cx="1466.7" cy="1080.5" r="12.9"/>
<circle cx="1444.5" cy="1052.5" r="12.9"/>
<circle cx="1494.7" cy="1021.0" r="12.9"/>
<circle cx="1465.3" cy="1013.0" r="12.9"/>
<circle cx="1508.0" cy="1031.5" r="12.9"/>
<circle cx="1476.0" cy="1037.0" r="12.9"/>
<circle cx="1448.0" cy="927.5" r="12.9"/>
<circle cx="1430.3" cy="969.5" r="12.9"/>
<circle cx="1443.3" cy="511.3" r="12.9"/>
<circle cx="1502.3" cy="1006.5" r="12.9"/>
<circle cx="1485.7" cy="964.5" r="12.9"/>
<circle cx="1496.6" cy="997.0" r="12.9"/>
<circle cx="1442.5" cy="1029.5" r="12.9"/>
<circle cx="1471.9" cy="948.5" r="12.9"/>
<circle cx="1447.5" cy="1058.5" r="12.9"/>
<circle cx="1453.4" cy="1021.0" r="12.9"/>
<circle cx="1481.5" cy="1093.5" r="12.9"/>
<circle cx="1503.6" cy="1040.5" r="12.9"/>
<circle cx="1483.6" cy="945.0" r="12.9"/>
<circle cx="1446.6" cy="1063.0" r="12.9"/>
<circle cx="1447.4" cy="1104.5" r="12.9"/>
<circle cx="1469.9" cy="986.5" r="12.9"/>
<circle cx="1485.3" cy="794.7" r="12.9"/>
<circle cx="1488.3" cy="1075.0" r="12.9"/>
<circle cx="1437.4" cy="1100.0" r="12.9"/>
<circle cx="1452.8" cy="796.0" r="12.9"/>
<circle cx="1436.2" cy="1057.5" r="12.9"/>
<circle cx="1442.3" cy="913.5" r="12.9"/>
<circle cx="1463.9" cy="1029.5" r="12.9"/>
<circle cx="1499.8" cy="981.5" r="12.9"/>
<circle cx="1484.5" cy="1089.0" r="12.9"/>
<circle cx="1499.1" cy="1031.0" r="12.9"/>
<circle cx="1446.9" cy="1080.5" r="12.9"/>
<circle cx="1497.8" cy="856.0" r="12.9"/>
<circle cx="1456.0" cy="941.0" r="12.9"/>
<circle cx="1473.6" cy="937.5" r="12.9"/>
<circle cx="1456.4" cy="1093.0" r="12.9"/>
<circle cx="1496.4" cy="1011.5" r="12.9"/>
<circle cx="1444.8" cy="1067.0" r="12.9"/>
<circle cx="1457.6" cy="1018.5" r="12.9"/>
<circle cx="1476.2" cy="918.5" r="12.9"/>
<circle cx="1452.1" cy="967.0" r="12.9"/>
<circle cx="1442.7" cy="782.7" r="12.9"/>
<circle cx="1429.0" cy="1068.5" r="12.9"/>
<circle cx="1508.3" cy="1108.5" r="12.9"/>
<circle cx="1437.9" cy="983.5" r="12.9"/>
<circle cx="1431.4" cy="1037.0" r="12.9"/>
<circle cx="1454.2" cy="1072.0" r="12.9"/>
<circle cx="1475.1" cy="1056.0" r="12.9"/>
<circle cx="1486.8" cy="1033.0" r="12.9"/>
<circle cx="1484.6" cy="1014.5" r="12.9"/>
<circle cx="1458.1" cy="346.1" r="12.9"/>
<circle cx="1496.5" cy="1070.0" r="12.9"/>
<circle cx="1442.1" cy="950.0" r="12.9"/>
<circle cx="1460.2" cy="997.5" r="12.9"/>
<circle cx="1442.2" cy="1054.5" r="12.9"/>
<circle cx="1505.3" cy="376.3" r="12.9"/>
<circle cx="1473.2" cy="1100.0" r="12.9"/>
<circle cx="1498.2" cy="1019.0" r="12.9"/>
<circle cx="1485.5" cy="1117.0" r="12.9"/>
<circle cx="1434.8" cy="881.5" r="12.9"/>
<circle cx="1436.2" cy="974.0" r="12.9"/>
<circle cx="1492.9" cy="1020.0" r="12.9"/>
<circle cx="1481.6" cy="1027.0" r="12.9"/>
<circle cx="1471.2" cy="1105.0" r="12.9"/>
<circle cx="1463.8" cy="1077.5" r="12.9"/>
<circle cx="1454.9" cy="985.0" r="12.9"/>
<circle cx="1502.7" cy="773.3" r="12.9"/>
<circle cx="1455.2" cy="1007.0" r="12.9"/>
<circle cx="1434.8" cy="1002.5" r="12.9"/>
<circle cx="1504.4" cy="1054.0" r="12.9"/>
<circle cx="1438.7" cy="1039.5" r="12.9"/>
<circle cx="1474.3" cy="884.5" r="12.9"/>
<circle cx="1440.0" cy="1012.0" r="12.9"/>
<circle cx="1463.7" cy="929.0" r="12.9"/>
<circle cx="1441.2" cy="1078.5" r="12.9"/>
<circle cx="1476.8" cy="1103.0" r="12.9"/>
<circle cx="1469.3" cy="764.7" r="12.9"/>
<circle cx="1500.6" cy="1022.5" r="12.9"/>
<circle cx="1452.6" cy="1097.5" r="12.9"/>
<circle cx="1454.8" cy="939.5" r="12.9"/>
<circle cx="1508.0" cy="762.0" r="12.9"/>
<circle cx="1433.5" cy="1018.0" r="12.9"/>
<circle cx="1495.7" cy="1109.5" r="12.9"/>
<circle cx="1466.8" cy="1018.0" r="12.9"/>
<circle cx="1503.0" cy="1076.0" r="12.9"/>
<circle cx="1478.5" cy="996.0" r="12.9"/>
<circle cx="1458.1" cy="996.5" r="12.9"/>
<circle cx="1506.3" cy="1050.5" r="12.9"/>
<circle cx="1430.8" cy="947.5" r="12.9"/>
<circle cx="1434.6" cy="996.5" r="12.9"/>
<circle cx="1455.6" cy="939.5" r="12.9"/>
<circle cx="1479.4" cy="1062.5" r="12.9"/>
<circle cx="1451.0" cy="1092.0" r="12.9"/>
<circle cx="1497.1" cy="937.5" r="12.9"/>
<circle cx="1495.3" cy="947.5" r="12.9"/>
<circle cx="1496.4" cy="1024.0" r="12.9"/>
<circle cx="1478.9" cy="983.5" r="12.9"/>
<circle cx="1491.3" cy="1035.0" r="12.9"/>
<circle cx="1468.2" cy="997.0" r="12.9"/>
<circle cx="1486.7" cy="1045.0" r="12.9"/>
<circle cx="1451.6" cy="1003.0" r="12.9"/>
<circle cx="1484.3" cy="1009.5" r="12.9"/>
<circle cx="1441.2" cy="985.5" r="12.9"/>
<circle cx="1477.1" cy="1012.5" r="12.9"/>
<circle cx="1504.2" cy="1064.5" r="12.9"/>
<circle cx="1438.1" cy="1072.0" r="12.9"/>
<circle cx="1443.0" cy="1054.5" r="12.9"/>
<circle cx="1474.7" cy="929.0" r="12.9"/>
<circle cx="1474.4" cy="962.0" r="12.9"/>
<circle cx="1447.1" cy="1041.5" r="12.9"/>
<circle cx="1465.7" cy="991.5" r="12.9"/>
<circle cx="1502.8" cy="1064.0" r="12.9"/>
<circle cx="1455.7" cy="1017.5" r="12.9"/>
<circle cx="1505.6" cy="1086.5" r="12.9"/>
<circle cx="1488.6" cy="1040.5" r="12.9"/>
<circle cx="1502.7" cy="929.5" r="12.9"/>
<circle cx="1469.0" cy="1013.5" r="12.9"/>
<circle cx="1498.2" cy="1037.0" r="12.9"/>
<circle cx="1445.9" cy="991.0" r="12.9"/>
<circle cx="1479.9" cy="1088.0" r="12.9"/>
<circle cx="1498.0" cy="1080.5" r="12.9"/>
<circle cx="1484.7" cy="1010.0" r="12.9"/>
<circle cx="1493.2" cy="1040.0" r="12.9"/>
<circle cx="1496.5" cy="1086.0" r="12.9"/>
<circle cx="1469.1" cy="1032.5" r="12.9"/>
<circle cx="1489.7" cy="1064.0" r="12.9"/>
<circle cx="1438.7" cy="797.3" r="12.9"/>
<circle cx="1465.1" cy="996.5" r="12.9"/>
<circle cx="1473.2" cy="983.0" r="12.9"/>
<circle cx="1500.6" cy="1080.5" r="12.9"/>
<circle cx="1468.7" cy="1056.0" r="12.9"/>
<circle cx="1451.0" cy="1058.5" r="12.9"/>
<circle cx="1499.3" cy="991.5" r="12.9"/>
<circle cx="1490.8" cy="1060.5" r="12.9"/>
<circle cx="1487.7" cy="1016.5" r="12.9"/>
<circle cx="1444.7" cy="1027.0" r="12.9"/>
<circle cx="1492.8" cy="1032.5" r="12.9"/>
<circle cx="1507.4" cy="1064.5" r="12.9"/>
<circle cx="1456.0" cy="818.7" r="12.9"/>
<circle cx="1462.1" cy="967.0" r="12.9"/>
<circle cx="1497.1" cy="1035.0" r="12.9"/>
<circle cx="1468.1" cy="1109.0" r="12.9"/>
<circle cx="1439.3" cy="621.3" r="12.9"/>
<circle cx="1507.3" cy="1085.0" r="12.9"/>
<circle cx="1481.1" cy="1018.5" r="12.9"/>
<circle cx="1483.8" cy="1065.0" r="12.9"/>
<circle cx="1431.6" cy="964.5" r="12.9"/>
<circle cx="1450.7" cy="989.0" r="12.9"/>
<circle cx="1497.6" cy="1077.0" r="12.9"/>
<circle cx="1468.8" cy="1073.0" r="12.9"/>
<circle cx="1494.0" cy="1006.0" r="12.9"/>
<circle cx="1475.6" cy="817.5" r="12.9"/>
<circle cx="1458.4" cy="1030.0" r="12.9"/>
<circle cx="1488.7" cy="1049.0" r="12.9"/>
<circle cx="1474.6" cy="1053.5" r="12.9"/>
<circle cx="1500.1" cy="1047.5" r="12.9"/>
<circle cx="1431.0" cy="983.0" r="12.9"/>
<circle cx="1488.4" cy="985.5" r="12.9"/>
<circle cx="1464.4" cy="1038.5" r="12.9"/>
<circle cx="1448.2" cy="1101.5" r="12.9"/>
<circle cx="1487.1" cy="1063.5" r="12.9"/>
<circle cx="1459.7" cy="1137.7" r="12.9"/>
<circle cx="1437.8" cy="1001.5" r="12.9"/>
<circle cx="1470.1" cy="1026.5" r="12.9"/>
<circle cx="1480.2" cy="1082.5" r="12.9"/>
<circle cx="1458.9" cy="1048.5" r="12.9"/>
<circle cx="1470.0" cy="956.0" r="12.9"/>
<circle cx="1481.6" cy="1076.0" r="12.9"/>
<circle cx="1460.9" cy="993.5" r="12.9"/>
<circle cx="1497.0" cy="1037.5" r="12.9"/>
<circle cx="1445.4" cy="1020.5" r="12.9"/>
<circle cx="1467.7" cy="1040.0" r="12.9"/>
<circle cx="1501.3" cy="1093.5" r="12.9"/>
<circle cx="1466.8" cy="816.5" r="12.9"/>
<circle cx="1488.4" cy="1067.0" r="12.9"/>
<circle cx="1488.1" cy="1094.5" r="12.9"/>
<circle cx="1497.3" cy="1047.0" r="12.9"/>
<circle cx="1458.0" cy="1086.5" r="12.9"/>
<circle cx="1456.4" cy="1074.0" r="12.9"/>
<circle cx="1450.4" cy="970.0" r="12.9"/>
<circle cx="1429.9" cy="984.0" r="12.9"/>
<circle cx="1476.9" cy="1064.0" r="12.9"/>
<circle cx="1484.5" cy="1023.0" r="12.9"/>
<circle cx="1450.4" cy="935.0" r="12.9"/>
<circle cx="1429.8" cy="1037.5" r="12.9"/>
<circle cx="1465.0" cy="944.0" r="12.9"/>
<circle cx="1464.0" cy="1023.5" r="12.9"/>
<circle cx="1498.1" cy="1051.0" r="12.9"/>
<circle cx="1487.4" cy="1087.0" r="12.9"/>
<circle cx="1455.5" cy="1035.0" r="12.9"/>
<circle cx="1503.9" cy="1054.0" r="12.9"/>
<circle cx="1457.0" cy="943.0" r="12.9"/>
<circle cx="1508.8" cy="1034.0" r="12.9"/>
<circle cx="1433.8" cy="1090.0" r="12.9"/>
<circle cx="1472.1" cy="941.0" r="12.9"/>
<circle cx="1480.1" cy="1071.0" r="12.9"/>
<circle cx="1479.9" cy="1005.0" r="12.9"/>
<circle cx="1460.2" cy="1104.0" r="12.9"/>
<circle cx="1504.9" cy="803.0" r="12.9"/>
<circle cx="1466.6" cy="1037.5" r="12.9"/>
<circle cx="1459.7" cy="1039.0" r="12.9"/>
<circle cx="1492.2" cy="942.5" r="12.9"/>
<circle cx="1442.4" cy="653.3" r="12.9"/>
<circle cx="1483.3" cy="1006.5" r="12.9"/>
<circle cx="1437.2" cy="958.0" r="12.9"/>
<circle cx="1493.2" cy="978.5" r="12.9"/>
<circle cx="1497.3" cy="1033.0" r="12.9"/>
<circle cx="1501.8" cy="1100.0" r="12.9"/>
<circle cx="1468.8" cy="989.0" r="12.9"/>
<circle cx="1487.5" cy="1057.5" r="12.9"/>
<circle cx="1462.0" cy="1027.0" r="12.9"/>
<circle cx="1451.7" cy="1082.0" r="12.9"/>
<circle cx="1465.1" cy="1048.0" r="12.9"/>
<circle cx="1471.4" cy="952.5" r="12.9"/>
<circle cx="1493.2" cy="847.5" r="12.9"/>
<circle cx="1496.8" cy="1036.5" r="12.9"/>
<circle cx="1495.4" cy="995.0" r="12.9"/>
<circle cx="1448.4" cy="849.0" r="12.9"/>
<circle cx="1479.3" cy="1038.0" r="12.9"/>
<circle cx="1452.7" cy="885.0" r="12.9"/>
<circle cx="1480.9" cy="1041.0" r="12.9"/>
<circle cx="1468.0" cy="1044.5" r="12.9"/>
<circle cx="1483.0" cy="967.0" r="12.9"/>
<circle cx="1429.7" cy="1041.0" r="12.9"/>
<circle cx="1503.7" cy="921.5" r="12.9"/>
<circle cx="1496.3" cy="956.5" r="12.9"/>
<circle cx="1484.2" cy="930.5" r="12.9"/>
<circle cx="1474.7" cy="675.3" r="12.9"/>
<circle cx="1485.9" cy="977.5" r="12.9"/>
<circle cx="1433.9" cy="948.5" r="12.9"/>
<circle cx="1481.7" cy="1015.5" r="12.9"/>
<circle cx="1443.5" cy="1008.0" r="12.9"/>
<circle cx="1480.9" cy="966.5" r="12.9"/>
<circle cx="1498.2" cy="1002.0" r="12.9"/>
<circle cx="1479.4" cy="1095.0" r="12.9"/>
<circle cx="1493.2" cy="1074.0" r="12.9"/>
<circle cx="1477.7" cy="1050.5" r="12.9"/>
<circle cx="1446.1" cy="970.0" r="12.9"/>
<circle cx="1450.1" cy="1018.0" r="12.9"/>
<circle cx="1498.0" cy="1042.0" r="12.9"/>
<circle cx="1481.2" cy="949.0" r="12.9"/>
<circle cx="1496.9" cy="1025.5" r="12.9"/>
<circle cx="1481.7" cy="1040.0" r="12.9"/>
<circle cx="1456.2" cy="967.5" r="12.9"/>
<circle cx="1435.4" cy="1036.5" r="12.9"/>
<circle cx="1506.7" cy="873.3" r="12.9"/>
<circle cx="1478.7" cy="746.0" r="12.9"/>
<circle cx="1453.1" cy="977.0" r="12.9"/>
<circle cx="1504.8" cy="1060.0" r="12.9"/>
<circle cx="1457.2" cy="998.0" r="12.9"/>
<circle cx="1462.9" cy="989.5" r="12.9"/>
<circle cx="1450.8" cy="1079.0" r="12.9"/>
<circle cx="1495.7" cy="966.0" r="12.9"/>
<circle cx="1457.8" cy="1079.0" r="12.9"/>
<circle cx="1500.1" cy="1034.0" r="12.9"/>
<circle cx="1436.9" cy="1115.5" r="12.9"/>
<circle cx="1457.6" cy="1041.5" r="12.9"/>
<circle cx="1464.9" cy="1013.5" r="12.9"/>
<circle cx="1435.0" cy="1024.0" r="12.9"/>
<circle cx="1491.8" cy="915.0" r="12.9"/>
<circle cx="1459.5" cy="981.5" r="12.9"/>
<circle cx="1478.1" cy="1055.0" r="12.9"/>
<circle cx="1477.3" cy="994.5" r="12.9"/>
<circle cx="1463.8" cy="1084.5" r="12.9"/>
<circle cx="1481.5" cy="1077.5" r="12.9"/>
<circle cx="1477.2" cy="1011.0" r="12.9"/>
<circle cx="1430.6" cy="1064.0" r="12.9"/>
<circle cx="1455.3" cy="915.5" r="12.9"/>
<circle cx="1433.3" cy="842.7" r="12.9"/>
<circle cx="1453.5" cy="1068.5" r="12.9"/>
<circle cx="1482.6" cy="1055.5" r="12.9"/>
<circle cx="1477.3" cy="1035.5" r="12.9"/>
<circle cx="1459.7" cy="1067.0" r="12.9"/>
<circle cx="1506.7" cy="1000.5" r="12.9"/>
<circle cx="1437.2" cy="1064.0" r="12.9"/>
<circle cx="1507.1" cy="811.0" r="12.9"/>
<circle cx="1442.4" cy="795.0" r="12.9"/>
<circle cx="1468.9" cy="1024.5" r="12.9"/>
<circle cx="1465.2" cy="1088.0" r="12.9"/>
<circle cx="1449.9" cy="1008.0" r="12.9"/>
<circle cx="1461.4" cy="1054.0" r="12.9"/>
<circle cx="1466.8" cy="1004.0" r="12.9"/>
<circle cx="1466.0" cy="1074.5" r="12.9"/>
<circle cx="1432.9" cy="847.0" r="12.9"/>
<circle cx="1477.2" cy="1019.5" r="12.9"/>
<circle cx="1507.3" cy="1092.0" r="12.9"/>
<circle cx="1448.2" cy="1083.0" r="12.9"/>
<circle cx="1488.0" cy="837.3" r="12.9"/>
<circle cx="1446.2" cy="980.0" r="12.9"/>
<circle cx="1484.5" cy="915.0" r="12.9"/>
<circle cx="1475.7" cy="970.0" r="12.9"/>
<circle cx="1494.7" cy="1049.5" r="12.9"/>
<circle cx="1442.5" cy="1070.5" r="12.9"/>
<circle cx="1456.5" cy="970.5" r="12.9"/>
<circle cx="1459.1" cy="991.0" r="12.9"/>
<circle cx="1429.5" cy="1082.5" r="12.9"/>
<circle cx="1501.2" cy="980.0" r="12.9"/>
<circle cx="1484.8" cy="1114.0" r="12.9"/>
<circle cx="1502.0" cy="1069.0" r="12.9"/>
<circle cx="1463.8" cy="1011.0" r="12.9"/>
<circle cx="1490.9" cy="980.0" r="12.9"/>
<circle cx="1506.5" cy="925.5" r="12.9"/>
<circle cx="1435.0" cy="1040.0" r="12.9"/>
<circle cx="1504.2" cy="956.0" r="12.9"/>
<circle cx="1443.3" cy="676.7" r="12.9"/>
<circle cx="1504.2" cy="991.0" r="12.9"/>
<circle cx="1498.4" cy="556.3" r="12.9"/>
<circle cx="1479.6" cy="1067.5" r="12.9"/>
<circle cx="1446.5" cy="954.0" r="12.9"/>
<circle cx="1502.7" cy="1013.0" r="12.9"/>
<circle cx="1484.3" cy="1061.0" r="12.9"/>
<circle cx="1491.1" cy="840.0" r="12.9"/>
<circle cx="1464.2" cy="1059.0" r="12.9"/>
<circle cx="1476.6" cy="982.5" r="12.9"/>
<circle cx="1471.5" cy="1051.0" r="12.9"/>
<circle cx="1429.7" cy="1004.0" r="12.9"/>
<circle cx="1493.6" cy="998.5" r="12.9"/>
<circle cx="1434.7" cy="962.5" r="12.9"/>
<circle cx="1440.0" cy="974.0" r="12.9"/>
<circle cx="1436.9" cy="1070.0" r="12.9"/>
<circle cx="1431.9" cy="1023.0" r="12.9"/>
<circle cx="1471.4" cy="1043.0" r="12.9"/>
<circle cx="1432.5" cy="970.5" r="12.9"/>
<circle cx="1475.6" cy="1078.5" r="12.9"/>
<circle cx="1456.4" cy="1032.0" r="12.9"/>
<circle cx="1506.7" cy="1027.5" r="12.9"/>
<circle cx="1443.1" cy="1063.5" r="12.9"/>
<circle cx="1474.9" cy="1061.5" r="12.9"/>
<circle cx="1504.8" cy="1018.0" r="12.9"/>
<circle cx="1509.3" cy="808.0" r="12.9"/>
<circle cx="1503.4" cy="1006.5" r="12.9"/>
<circle cx="1454.0" cy="590.0" r="12.9"/>
<circle cx="1446.4" cy="996.5" r="12.9"/>
<circle cx="1471.4" cy="883.0" r="12.9"/>
<circle cx="1488.3" cy="1081.5" r="12.9"/>
<circle cx="1456.5" cy="1079.5" r="12.9"/>
<circle cx="1498.8" cy="996.0" r="12.9"/>
<circle cx="1468.5" cy="378.1" r="12.9"/>
<circle cx="1455.1" cy="1109.0" r="12.9"/>
<circle cx="1496.0" cy="1015.5" r="12.9"/>
<circle cx="1507.8" cy="1011.5" r="12.9"/>
<circle cx="1498.7" cy="1035.0" r="12.9"/>
<circle cx="1434.1" cy="1070.5" r="12.9"/>
<circle cx="1441.7" cy="1026.5" r="12.9"/>
<circle cx="1460.9" cy="1067.5" r="12.9"/>
<circle cx="1499.9" cy="1061.5" r="12.9"/>
<circle cx="1504.4" cy="831.5" r="12.9"/>
<circle cx="1488.7" cy="651.3" r="12.9"/>
<circle cx="1476.4" cy="1087.0" r="12.9"/>
<circle cx="1463.7" cy="1080.0" r="12.9"/>
<circle cx="1506.9" cy="923.0" r="12.9"/>
<circle cx="1452.5" cy="1003.5" r="12.9"/>
<circle cx="1433.1" cy="975.5" r="12.9"/>
<circle cx="1441.1" cy="1106.5" r="12.9"/>
<circle cx="1486.8" cy="986.0" r="12.9"/>
<circle cx="1485.5" cy="954.5" r="12.9"/>
<circle cx="1468.1" cy="1038.5" r="12.9"/>
<circle cx="1442.3" cy="1086.5" r="12.9"/>
<circle cx="1483.1" cy="1019.5" r="12.9"/>
<circle cx="1469.5" cy="1080.0" r="12.9"/>
<circle cx="1460.0" cy="999.5" r="12.9"/>
<circle cx="1507.1" cy="1061.5" r="12.9"/>
<circle cx="1480.7" cy="738.0" r="12.9"/>
<circle cx="1443.4" cy="1102.5" r="12.9"/>
<circle cx="1473.1" cy="1014.5" r="12.9"/>
<circle cx="1494.1" cy="1058.5" r="12.9"/>
<circle cx="1479.0" cy="1014.5" r="12.9"/>
<circle cx="1451.7" cy="1058.0" r="12.9"/>
<circle cx="1485.9" cy="1083.0" r="12.9"/>
<circle cx="1468.1" cy="1039.5" r="12.9"/>
<circle cx="1452.0" cy="1105.5" r="12.9"/>
<circle cx="1471.9" cy="819.5" r="12.9"/>
<circle cx="1481.0" cy="1061.5" r="12.9"/>
<circle cx="1467.9" cy="1006.0" r="12.9"/>
<circle cx="1459.2" cy="1013.0" r="12.9"/>
<circle cx="1456.3" cy="1023.5" r="12.9"/>
<circle cx="1487.8" cy="1034.0" r="12.9"/>
<circle cx="1438.1" cy="1082.5" r="12.9"/>
<circle cx="1505.5" cy="1044.0" r="12.9"/>
<circle cx="1482.8" cy="1006.0" r="12.9"/>
<circle cx="1475.3" cy="1001.5" r="12.9"/>
<circle cx="1471.4" cy="967.5" r="12.9"/>
<circle cx="1457.8" cy="1084.0" r="12.9"/>
<circle cx="1490.6" cy="1014.5" r="12.9"/>
<circle cx="1472.0" cy="1067.5" r="12.9"/>
<circle cx="1455.7" cy="1002.0" r="12.9"/>
<circle cx="1498.5" cy="993.0" r="12.9"/>
<circle cx="1464.2" cy="1001.5" r="12.9"/>
<circle cx="1464.1" cy="998.5" r="12.9"/>
<circle cx="1480.4" cy="944.5" r="12.9"/>
<circle cx="1473.3" cy="1035.0" r="12.9"/>
<circle cx="1460.5" cy="1073.5" r="12.9"/>
<circle cx="1481.2" cy="1035.0" r="12.9"/>
<circle cx="1487.3" cy="1085.0" r="12.9"/>
<circle cx="1468.0" cy="1044.0" r="12.9"/>
<circle cx="1488.4" cy="1004.5" r="12.9"/>
<circle cx="1462.8" cy="969.5" r="12.9"/>
<circle cx="1475.2" cy="1035.0" r="12.9"/>
<circle cx="1456.3" cy="1044.5" r="12.9"/>
<circle cx="1493.3" cy="1089.0" r="12.9"/>
<circle cx="1451.6" cy="1012.5" r="12.9"/>
<circle cx="1474.7" cy="776.0" r="12.9"/>
<circle cx="1430.7" cy="1074.0" r="12.9"/>
<circle cx="1505.4" cy="1080.5" r="12.9"/>
<circle cx="1478.5" cy="1082.5" r="12.9"/>
<circle cx="1509.3" cy="886.7" r="12.9"/>
<circle cx="1484.0" cy="978.0" r="12.9"/>
<circle cx="1443.3" cy="1032.0" r="12.9"/>
<circle cx="1506.6" cy="897.0" r="12.9"/>
<circle cx="1462.5" cy="1015.5" r="12.9"/>
<circle cx="1455.3" cy="1020.0" r="12.9"/>
<circle cx="1503.1" cy="1083.5" r="12.9"/>
<circle cx="1440.0" cy="877.3" r="12.9"/>
<circle cx="1431.0" cy="1022.5" r="12.9"/>
<circle cx="1469.3" cy="1079.0" r="12.9"/>
<circle cx="1476.9" cy="1068.5" r="12.9"/>
<circle cx="1503.3" cy="684.0" r="12.9"/>
<circle cx="1446.9" cy="915.0" r="12.9"/>
<circle cx="1460.1" cy="1051.5" r="12.9"/>
<circle cx="1472.5" cy="1093.0" r="12.9"/>
<circle cx="1457.1" cy="1011.5" r="12.9"/>
<circle cx="1460.9" cy="1108.5" r="12.9"/>
<circle cx="1431.3" cy="978.0" r="12.9"/>
<circle cx="1489.4" cy="1030.5" r="12.9"/>
<circle cx="1476.4" cy="434.4" r="12.9"/>
<circle cx="1489.0" cy="1001.5" r="12.9"/>
<circle cx="1489.3" cy="1057.0" r="12.9"/>
<circle cx="1455.9" cy="1002.0" r="12.9"/>
<circle cx="1503.0" cy="1013.0" r="12.9"/>
<circle cx="1469.1" cy="830.0" r="12.9"/>
<circle cx="1481.8" cy="1105.0" r="12.9"/>
<circle cx="1453.2" cy="1082.0" r="12.9"/>
<circle cx="1498.9" cy="1017.0" r="12.9"/>
<circle cx="1503.3" cy="723.3" r="12.9"/>
<circle cx="1482.0" cy="1014.5" r="12.9"/>
<circle cx="1479.1" cy="1103.5" r="12.9"/>
<circle cx="1484.0" cy="993.0" r="12.9"/>
<circle cx="1489.6" cy="920.5" r="12.9"/>
<circle cx="1447.1" cy="1002.0" r="12.9"/>
<circle cx="1506.3" cy="1073.0" r="12.9"/>
<circle cx="1504.0" cy="845.3" r="12.9"/>
<circle cx="1462.1" cy="1056.5" r="12.9"/>
<circle cx="1441.0" cy="935.0" r="12.9"/>
<circle cx="1501.0" cy="1113.5" r="12.9"/>
<circle cx="1442.3" cy="1105.0" r="12.9"/>
<circle cx="1504.9" cy="958.5" r="12.9"/>
<circle cx="1486.3" cy="1058.5" r="12.9"/>
<circle cx="1507.8" cy="1024.5" r="12.9"/>
<circle cx="1497.7" cy="1021.0" r="12.9"/>
<circle cx="1438.2" cy="1046.5" r="12.9"/>
<circle cx="1467.3" cy="944.0" r="12.9"/>
<circle cx="1467.7" cy="1090.0" r="12.9"/>
<circle cx="1477.1" cy="1110.5" r="12.9"/>
<circle cx="1472.4" cy="1038.5" r="12.9"/>
<circle cx="1501.9" cy="969.5" r="12.9"/>
<circle cx="1463.5" cy="1068.0" r="12.9"/>
<circle cx="1451.4" cy="967.5" r="12.9"/>
<circle cx="1485.5" cy="1058.0" r="12.9"/>
<circle cx="1439.8" cy="1086.5" r="12.9"/>
<circle cx="1463.4" cy="1008.0" r="12.9"/>
<circle cx="1457.2" cy="1089.0" r="12.9"/>
<circle cx="1458.0" cy="1002.0" r="12.9"/>
<circle cx="1493.8" cy="938.5" r="12.9"/>
<circle cx="1476.9" cy="934.0" r="12.9"/>
<circle cx="1502.6" cy="1037.0" r="12.9"/>
<circle cx="1485.6" cy="973.5" r="12.9"/>
<circle cx="1430.5" cy="1057.0" r="12.9"/>
<circle cx="1490.0" cy="1029.0" r="12.9"/>
<circle cx="1451.7" cy="948.5" r="12.9"/>
<circle cx="1448.9" cy="1078.0" r="12.9"/>
<circle cx="1447.4" cy="1113.0" r="12.9"/>
<circle cx="1457.9" cy="900.0" r="12.9"/>
<circle cx="1501.1" cy="1126.7" r="12.9"/>
<circle cx="1463.9" cy="1016.5" r="12.9"/>
<circle cx="1506.7" cy="1107.0" r="12.9"/>
<circle cx="1468.4" cy="958.0" r="12.9"/>
<circle cx="1505.3" cy="768.7" r="12.9"/>
<circle cx="1436.7" cy="993.5" r="12.9"/>
<circle cx="1482.6" cy="1042.5" r="12.9"/>
<circle cx="1462.4" cy="1054.0" r="12.9"/>
<circle cx="1444.6" cy="936.5" r="12.9"/>
<circle cx="1464.3" cy="1057.0" r="12.9"/>
<circle cx="1446.9" cy="1027.0" r="12.9"/>
<circle cx="1486.0" cy="1059.0" r="12.9"/>
<circle cx="1499.1" cy="1046.5" r="12.9"/>
<circle cx="1431.8" cy="1051.0" r="12.9"/>
<circle cx="1496.3" cy="1037.0" r="12.9"/>
<circle cx="1485.0" cy="928.5" r="12.9"/>
<circle cx="1447.6" cy="1064.0" r="12.9"/>
<circle cx="1428.0" cy="777.3" r="12.9"/>
<circle cx="1436.8" cy="983.0" r="12.9"/>
<circle cx="1503.4" cy="1009.0" r="12.9"/>
<circle cx="1503.1" cy="1006.5" r="12.9"/>
<circle cx="1436.5" cy="985.5" r="12.9"/>
<circle cx="1501.6" cy="894.5" r="12.9"/>
<circle cx="1490.0" cy="805.5" r="12.9"/>
<circle cx="1437.0" cy="1014.0" r="12.9"/>
<circle cx="1483.4" cy="839.5" r="12.9"/>
<circle cx="1455.3" cy="1062.5" r="12.9"/>
<circle cx="1459.9" cy="1022.0" r="12.9"/>
<circle cx="1440.8" cy="999.5" r="12.9"/>
<circle cx="1483.8" cy="953.5" r="12.9"/>
<circle cx="1482.0" cy="860.0" r="12.9"/>
<circle cx="1504.0" cy="856.0" r="12.9"/>
<circle cx="1505.9" cy="1071.0" r="12.9"/>
<circle cx="1457.9" cy="1073.0" r="12.9"/>
<circle cx="1447.2" cy="1025.5" r="12.9"/>
<circle cx="1467.0" cy="1127.0" r="12.9"/>
<circle cx="1468.2" cy="998.0" r="12.9"/>
<circle cx="1438.9" cy="1081.5" r="12.9"/>
<circle cx="1497.7" cy="1051.5" r="12.9"/>
<circle cx="1497.6" cy="910.5" r="12.9"/>
<circle cx="1505.4" cy="987.0" r="12.9"/>
<circle cx="1439.6" cy="878.0" r="12.9"/>
<circle cx="1430.1" cy="975.5" r="12.9"/>
<circle cx="1438.4" cy="1056.0" r="12.9"/>
<circle cx="1503.5" cy="948.0" r="12.9"/>
<circle cx="1511.7" cy="1132.4" r="12.9"/>
<circle cx="1508.3" cy="858.0" r="12.9"/>
<circle cx="1489.4" cy="928.0" r="12.9"/>
<circle cx="1431.4" cy="1054.0" r="12.9"/>
<circle cx="1487.2" cy="1003.0" r="12.9"/>
<circle cx="1473.2" cy="1017.5" r="12.9"/>
<circle cx="1455.3" cy="1084.5" r="12.9"/>
<circle cx="1480.0" cy="917.5" r="12.9"/>
<circle cx="1474.1" cy="990.5" r="12.9"/>
<circle cx="1457.8" cy="1081.5" r="12.9"/>
<circle cx="1458.1" cy="1079.5" r="12.9"/>
<circle cx="1493.5" cy="1037.0" r="12.9"/>
<circle cx="1456.2" cy="1080.5" r="12.9"/>
<circle cx="1469.1" cy="1032.0" r="12.9"/>
<circle cx="1491.7" cy="1017.5" r="12.9"/>
<circle cx="1488.0" cy="748.7" r="12.9"/>
<circle cx="1482.9" cy="928.0" r="12.9"/>
<circle cx="1491.5" cy="1129.5" r="12.9"/>
<circle cx="1474.0" cy="1024.5" r="12.9"/>
<circle cx="1458.9" cy="1112.0" r="12.9"/>
<circle cx="1468.9" cy="1034.0" r="12.9"/>
<circle cx="1506.4" cy="1076.0" r="12.9"/>
<circle cx="1482.3" cy="1059.5" r="12.9"/>
<circle cx="1507.4" cy="1111.0" r="12.9"/>
<circle cx="1476.2" cy="950.0" r="12.9"/>
<circle cx="1476.7" cy="935.0" r="12.9"/>
<circle cx="1494.7" cy="1066.0" r="12.9"/>
<circle cx="1484.8" cy="1040.0" r="12.9"/>
<circle cx="1503.2" cy="1036.5" r="12.9"/>
<circle cx="1443.7" cy="1040.0" r="12.9"/>
<circle cx="1460.1" cy="1064.0" r="12.9"/>
<circle cx="1503.4" cy="1057.5" r="12.9"/>
<circle cx="1432.1" cy="1062.5" r="12.9"/>
<circle cx="1495.7" cy="1117.5" r="12.9"/>
<circle cx="1459.6" cy="1012.5" r="12.9"/>
<circle cx="1445.4" cy="1016.0" r="12.9"/>
<circle cx="1486.1" cy="924.0" r="12.9"/>
<circle cx="1508.1" cy="1072.5" r="12.9"/>
<circle cx="1433.0" cy="910.0" r="12.9"/>
<circle cx="1460.8" cy="1003.0" r="12.9"/>
<circle cx="1434.5" cy="1074.5" r="12.9"/>
<circle cx="1435.8" cy="982.5" r="12.9"/>
<circle cx="1433.8" cy="1078.5" r="12.9"/>
<circle cx="1458.1" cy="863.0" r="12.9"/>
<circle cx="1479.1" cy="1047.5" r="12.9"/>
<circle cx="1465.7" cy="1057.0" r="12.9"/>
<circle cx="1442.7" cy="1095.5" r="12.9"/>
<circle cx="1456.6" cy="1042.5" r="12.9"/>
<circle cx="1455.3" cy="928.0" r="12.9"/>
<circle cx="1486.6" cy="991.5" r="12.9"/>
<circle cx="1493.6" cy="850.0" r="12.9"/>
<circle cx="1505.4" cy="1101.5" r="12.9"/>
<circle cx="1476.0" cy="923.5" r="12.9"/>
<circle cx="1502.8" cy="1092.0" r="12.9"/>
<circle cx="1445.3" cy="965.0" r="12.9"/>
<circle cx="1493.3" cy="991.0" r="12.9"/>
<circle cx="1435.8" cy="974.0" r="12.9"/>
<circle cx="1463.2" cy="1063.0" r="12.9"/>
<circle cx="1474.6" cy="1033.0" r="12.9"/>
<circle cx="1498.8" cy="991.5" r="12.9"/>
<circle cx="1500.4" cy="929.5" r="12.9"/>
<circle cx="1464.6" cy="1096.0" r="12.9"/>
<circle cx="1494.3" cy="902.0" r="12.9"/>
<circle cx="1473.5" cy="1024.0" r="12.9"/>
<circle cx="1489.5" cy="1047.5" r="12.9"/>
<circle cx="1459.2" cy="975.5" r="12.9"/>
<circle cx="1448.7" cy="1040.0" r="12.9"/>
<circle cx="1442.6" cy="923.0" r="12.9"/>
<circle cx="1442.5" cy="938.5" r="12.9"/>
<circle cx="1481.1" cy="1058.0" r="12.9"/>
<circle cx="1468.9" cy="1087.5" r="12.9"/>
<circle cx="1482.1" cy="968.5" r="12.9"/>
<circle cx="1487.1" cy="1080.0" r="12.9"/>
<circle cx="1473.5" cy="982.0" r="12.9"/>
<circle cx="1487.9" cy="1055.0" r="12.9"/>
<circle cx="1496.3" cy="998.0" r="12.9"/>
<circle cx="1469.3" cy="953.0" r="12.9"/>
<circle cx="1431.4" cy="1099.5" r="12.9"/>
<circle cx="1460.5" cy="996.0" r="12.9"/>
<circle cx="1429.9" cy="1063.5" r="12.9"/>
<circle cx="1451.3" cy="1049.0" r="12.9"/>
<circle cx="1506.3" cy="622.4" r="12.9"/>
<circle cx="1467.8" cy="932.0" r="12.9"/>
<circle cx="1463.4" cy="953.5" r="12.9"/>
<circle cx="1446.9" cy="1039.0" r="12.9"/>
<circle cx="1482.6" cy="1047.5" r="12.9"/>
<circle cx="1480.9" cy="984.0" r="12.9"/>
<circle cx="1485.3" cy="980.5" r="12.9"/>
<circle cx="1443.3" cy="1139.2" r="12.9"/>
<circle cx="1440.0" cy="829.3" r="12.9"/>
<circle cx="1476.4" cy="592.0" r="12.9"/>
<circle cx="1489.0" cy="929.0" r="12.9"/>
<circle cx="1441.7" cy="1103.5" r="12.9"/>
<circle cx="1466.5" cy="1089.0" r="12.9"/>
<circle cx="1466.7" cy="897.0" r="12.9"/>
<circle cx="1489.0" cy="937.0" r="12.9"/>
<circle cx="1435.7" cy="1103.0" r="12.9"/>
<circle cx="1449.1" cy="903.0" r="12.9"/>
<circle cx="1453.3" cy="837.3" r="12.9"/>
<circle cx="1448.0" cy="752.7" r="12.9"/>
<circle cx="1504.3" cy="1106.5" r="12.9"/>
<circle cx="1471.7" cy="1073.5" r="12.9"/>
<circle cx="1456.7" cy="1012.0" r="12.9"/>
<circle cx="1502.1" cy="1049.5" r="12.9"/>
<circle cx="1498.7" cy="808.0" r="12.9"/>
<circle cx="1504.6" cy="1080.0" r="12.9"/>
<circle cx="1434.3" cy="1098.0" r="12.9"/>
<circle cx="1448.6" cy="1061.0" r="12.9"/>
<circle cx="1471.3" cy="1035.0" r="12.9"/>
<circle cx="1468.2" cy="856.0" r="12.9"/>
<circle cx="1506.8" cy="1085.5" r="12.9"/>
<circle cx="1473.0" cy="1110.0" r="12.9"/>
<circle cx="1467.3" cy="878.0" r="12.9"/>
<circle cx="1475.5" cy="1056.5" r="12.9"/>
<circle cx="1471.6" cy="1041.5" r="12.9"/>
<circle cx="1441.8" cy="1037.5" r="12.9"/>
<circle cx="1462.0" cy="1043.0" r="12.9"/>
<circle cx="1439.3" cy="954.0" r="12.9"/>
<circle cx="1428.9" cy="1116.1" r="12.9"/>
<circle cx="1437.5" cy="845.5" r="12.9"/>
<circle cx="1467.1" cy="1054.5" r="12.9"/>
<circle cx="1478.4" cy="996.5" r="12.9"/>
<circle cx="1437.4" cy="1089.0" r="12.9"/>
<circle cx="1456.1" cy="974.0" r="12.9"/>
<circle cx="1508.3" cy="1041.5" r="12.9"/>
<circle cx="1444.4" cy="1035.0" r="12.9"/>
<circle cx="1504.0" cy="1093.5" r="12.9"/>
<circle cx="1498.3" cy="1080.5" r="12.9"/>
<circle cx="1457.1" cy="966.0" r="12.9"/>
<circle cx="1484.9" cy="1075.5" r="12.9"/>
<circle cx="1495.0" cy="1060.5" r="12.9"/>
<circle cx="1432.0" cy="736.7" r="12.9"/>
<circle cx="1426.7" cy="882.7" r="12.9"/>
<circle cx="1437.6" cy="862.0" r="12.9"/>
<circle cx="1438.1" cy="884.0" r="12.9"/>
<circle cx="1493.1" cy="958.5" r="12.9"/>
<circle cx="1486.3" cy="1053.5" r="12.9"/>
<circle cx="1454.7" cy="1024.0" r="12.9"/>
<circle cx="1464.8" cy="1052.0" r="12.9"/>
<circle cx="1464.2" cy="1032.0" r="12.9"/>
<circle cx="1486.7" cy="1055.5" r="12.9"/>
<circle cx="1470.9" cy="1063.0" r="12.9"/>
<circle cx="1472.5" cy="1035.5" r="12.9"/>
<circle cx="1463.3" cy="924.5" r="12.9"/>
<circle cx="1444.2" cy="1043.5" r="12.9"/>
<circle cx="1493.5" cy="995.5" r="12.9"/>
<circle cx="1444.0" cy="973.0" r="12.9"/>
<circle cx="1484.0" cy="893.5" r="12.9"/>
<circle cx="1480.0" cy="73.9" r="12.9"/>
<circle cx="1481.6" cy="918.0" r="12.9"/>
<circle cx="1475.9" cy="1019.5" r="12.9"/>
<circle cx="1443.1" cy="1025.5" r="12.9"/>
<circle cx="1489.9" cy="909.5" r="12.9"/>
<circle cx="1485.3" cy="651.3" r="12.9"/>
<circle cx="1476.0" cy="927.0" r="12.9"/>
<circle cx="1444.8" cy="1049.5" r="12.9"/>
<circle cx="1455.5" cy="1098.5" r="12.9"/>
<circle cx="1442.2" cy="1056.0" r="12.9"/>
<circle cx="1441.6" cy="998.0" r="12.9"/>
<circle cx="1508.3" cy="1027.5" r="12.9"/>
<circle cx="1461.4" cy="1101.0" r="12.9"/>
<circle cx="1496.5" cy="905.0" r="12.9"/>
<circle cx="1477.1" cy="975.0" r="12.9"/>
<circle cx="1476.7" cy="1038.0" r="12.9"/>
<circle cx="1495.3" cy="896.5" r="12.9"/>
<circle cx="1496.4" cy="1058.5" r="12.9"/>
<circle cx="1473.5" cy="988.5" r="12.9"/>
<circle cx="1457.4" cy="940.5" r="12.9"/>
<circle cx="1431.5" cy="956.5" r="12.9"/>
<circle cx="1500.6" cy="1084.5" r="12.9"/>
<circle cx="1456.2" cy="939.0" r="12.9"/>
<circle cx="1498.3" cy="958.0" r="12.9"/>
<circle cx="1478.9" cy="1077.5" r="12.9"/>
<circle cx="1460.5" cy="1025.5" r="12.9"/>
<circle cx="1463.7" cy="986.5" r="12.9"/>
<circle cx="1464.6" cy="1073.5" r="12.9"/>
<circle cx="1457.9" cy="997.5" r="12.9"/>
<circle cx="1510.7" cy="818.7" r="12.9"/>
<circle cx="1464.5" cy="1064.5" r="12.9"/>
<circle cx="1503.4" cy="1104.0" r="12.9"/>
<circle cx="1446.9" cy="1115.5" r="12.9"/>
<circle cx="1439.4" cy="993.5" r="12.9"/>
<circle cx="1461.5" cy="1073.5" r="12.9"/>
<circle cx="1464.0" cy="960.0" r="12.9"/>
<circle cx="1464.6" cy="879.0" r="12.9"/>
<circle cx="1461.0" cy="1058.5" r="12.9"/>
<circle cx="1477.5" cy="1001.5" r="12.9"/>
<circle cx="1451.1" cy="813.5" r="12.9"/>
<circle cx="1426.7" cy="770.0" r="12.9"/>
<circle cx="1494.7" cy="1032.5" r="12.9"/>
<circle cx="1455.1" cy="1021.5" r="12.9"/>
<circle cx="1503.4" cy="927.5" r="12.9"/>
<circle cx="1447.7" cy="1058.0" r="12.9"/>
<circle cx="1445.5" cy="1045.0" r="12.9"/>
<circle cx="1498.7" cy="1070.0" r="12.9"/>
<circle cx="1447.1" cy="1050.0" r="12.9"/>
<circle cx="1431.5" cy="1063.5" r="12.9"/>
<circle cx="1507.8" cy="870.0" r="12.9"/>
<circle cx="1467.5" cy="909.0" r="12.9"/>
<circle cx="1446.7" cy="861.3" r="12.9"/>
<circle cx="1508.0" cy="796.0" r="12.9"/>
<circle cx="1501.4" cy="1053.0" r="12.9"/>
<circle cx="1493.0" cy="1004.5" r="12.9"/>
<circle cx="1484.2" cy="945.0" r="12.9"/>
<circle cx="1441.6" cy="873.0" r="12.9"/>
<circle cx="1479.6" cy="1074.5" r="12.9"/>
<circle cx="1485.1" cy="1080.5" r="12.9"/>
<circle cx="1506.1" cy="1073.0" r="12.9"/>
<circle cx="1489.0" cy="1055.5" r="12.9"/>
<circle cx="1483.6" cy="1078.5" r="12.9"/>
<circle cx="1440.2" cy="977.5" r="12.9"/>
<circle cx="1436.8" cy="1044.5" r="12.9"/>
<circle cx="1466.6" cy="917.5" r="12.9"/>
<circle cx="1459.2" cy="901.0" r="12.9"/>
<circle cx="1486.0" cy="953.0" r="12.9"/>
<circle cx="1504.6" cy="995.0" r="12.9"/>
<circle cx="1459.7" cy="959.5" r="12.9"/>
<circle cx="1471.0" cy="1003.5" r="12.9"/>
<circle cx="1500.7" cy="1099.5" r="12.9"/>
<circle cx="1453.6" cy="1046.0" r="12.9"/>
<circle cx="1505.9" cy="1080.0" r="12.9"/>
<circle cx="1460.8" cy="1011.5" r="12.9"/>
<circle cx="1434.3" cy="1025.0" r="12.9"/>
<circle cx="1454.7" cy="662.0" r="12.9"/>
<circle cx="1453.8" cy="1003.5" r="12.9"/>
<circle cx="1494.9" cy="934.0" r="12.9"/>
<circle cx="1439.7" cy="995.0" r="12.9"/>
<circle cx="1488.8" cy="1024.5" r="12.9"/>
<circle cx="1434.3" cy="990.5" r="12.9"/>
<circle cx="1433.3" cy="540.4" r="12.9"/>
<circle cx="1457.1" cy="1105.5" r="12.9"/>
<circle cx="1498.7" cy="1048.0" r="12.9"/>
<circle cx="1432.0" cy="913.5" r="12.9"/>
<circle cx="1443.0" cy="1025.5" r="12.9"/>
<circle cx="1504.4" cy="520.3" r="12.9"/>
<circle cx="1448.3" cy="961.0" r="12.9"/>
<circle cx="1507.2" cy="1034.5" r="12.9"/>
<circle cx="1473.0" cy="952.5" r="12.9"/>
<circle cx="1485.3" cy="820.0" r="12.9"/>
<circle cx="1474.0" cy="1067.0" r="12.9"/>
<circle cx="1468.1" cy="984.0" r="12.9"/>
<circle cx="1438.9" cy="1029.5" r="12.9"/>
<circle cx="1454.4" cy="1009.5" r="12.9"/>
<circle cx="1473.7" cy="1012.0" r="12.9"/>
<circle cx="1504.4" cy="567.3" r="12.9"/>
<circle cx="1480.9" cy="988.5" r="12.9"/>
<circle cx="1476.1" cy="963.5" r="12.9"/>
<circle cx="1453.2" cy="954.0" r="12.9"/>
<circle cx="1439.2" cy="1012.5" r="12.9"/>
<circle cx="1470.2" cy="1084.0" r="12.9"/>
<circle cx="1437.7" cy="904.0" r="12.9"/>
<circle cx="1493.1" cy="1077.0" r="12.9"/>
<circle cx="1450.1" cy="1083.0" r="12.9"/>
<circle cx="1492.1" cy="1080.5" r="12.9"/>
<circle cx="1477.5" cy="833.5" r="12.9"/>
<circle cx="1506.4" cy="1065.5" r="12.9"/>
<circle cx="1442.8" cy="1090.5" r="12.9"/>
<circle cx="1458.8" cy="1023.0" r="12.9"/>
<circle cx="1440.7" cy="1078.0" r="12.9"/>
<circle cx="1450.9" cy="1073.0" r="12.9"/>
<circle cx="1469.3" cy="936.5" r="12.9"/>
<circle cx="1464.9" cy="1017.0" r="12.9"/>
<circle cx="1477.1" cy="1059.0" r="12.9"/>
<circle cx="1446.0" cy="1094.0" r="12.9"/>
<circle cx="1430.1" cy="1055.5" r="12.9"/>
<circle cx="1469.7" cy="1043.0" r="12.9"/>
<circle cx="1470.7" cy="1053.0" r="12.9"/>
<circle cx="1446.2" cy="1086.0" r="12.9"/>
<circle cx="1488.3" cy="1013.0" r="12.9"/>
<circle cx="1438.9" cy="950.5" r="12.9"/>
<circle cx="1489.2" cy="1085.5" r="12.9"/>
<circle cx="1436.3" cy="973.5" r="12.9"/>
<circle cx="1497.2" cy="992.5" r="12.9"/>
<circle cx="1508.5" cy="1015.5" r="12.9"/>
<circle cx="1486.7" cy="1082.5" r="12.9"/>
<circle cx="1431.2" cy="1065.0" r="12.9"/>
<circle cx="1481.8" cy="1046.0" r="12.9"/>
<circle cx="1433.3" cy="602.7" r="12.9"/>
<circle cx="1431.1" cy="942.0" r="12.9"/>
<circle cx="1430.1" cy="1022.0" r="12.9"/>
<circle cx="1480.6" cy="1071.0" r="12.9"/>
<circle cx="1491.1" cy="882.5" r="12.9"/>
<circle cx="1429.2" cy="954.5" r="12.9"/>
</g>
<line x1="434.95" x2="434.95" y1="520.3" y2="776.2" stroke="#333" stroke-width="3.7"/>
<line x1="434.95" x2="434.95" y1="948.6" y2="1061.0" stroke="#333" stroke-width="3.7"/>
<rect x="357.40" y="776.2" width="155.10" height="172.40" fill="rgba(255,255,255,0.2)" stroke="#333" stroke-width="3.8" stroke-linejoin="round"/>
<line x1="357.40" x2="512.50" y1="889.8" y2="889.8" stroke="#333" stroke-width="7.6"/>
<line x1="951.95" x2="951.95" y1="465.3" y2="740.0" stroke="#333" stroke-width="3.7"/>
<line x1="951.95" x2="951.95" y1="929.5" y2="1025.0" stroke="#333" stroke-width="3.7"/>
<rect x="874.40" y="740.0" width="155.10" height="189.50" fill="rgba(255,255,255,0.2)" stroke="#333" stroke-width="3.8" stroke-linejoin="round"/>
<line x1="874.40" x2="1029.50" y1="863.7" y2="863.7" stroke="#333" stroke-width="7.6"/>
<line x1="1468.95" x2="1468.95" y1="834.8" y2="968.0" stroke="#333" stroke-width="3.7"/>
<line x1="1468.95" x2="1468.95" y1="1058.7" y2="1137.0" stroke="#333" stroke-width="3.7"/>
<rect x="1391.40" y="968.0" width="155.10" height="90.70" fill="rgba(255,255,255,0.2)" stroke="#333" stroke-width="3.8" stroke-linejoin="round"/>
<line x1="1391.40" x2="1546.50" y1="1021.8" y2="1021.8" stroke="#333" stroke-width="7.6"/>
<path d="M433.35,455.20 C433.15,455.67 432.53,455.60 432.15,458.00 C431.77,460.40 431.35,465.20 431.05,469.60 C430.75,474.00 430.57,479.45 430.35,484.40 C430.13,489.35 429.95,494.35 429.75,499.30 C429.55,504.25 429.37,509.17 429.15,514.10 C428.93,519.03 428.65,523.97 428.45,528.90 C428.25,533.83 428.15,538.77 427.95,543.70 C427.75,548.63 427.43,553.57 427.25,558.50 C427.07,563.43 427.02,568.37 426.85,573.30 C426.68,578.23 426.50,583.15 426.25,588.10 C426.00,593.05 425.72,598.05 425.35,603.00 C424.98,607.95 424.53,612.87 424.05,617.80 C423.57,622.73 423.38,626.70 422.45,632.60 C421.52,638.50 420.03,645.82 418.45,653.20 C416.87,660.58 414.73,669.02 412.95,676.90 C411.17,684.78 409.38,692.62 407.75,700.50 C406.12,708.38 404.45,716.30 403.15,724.20 C401.85,732.10 400.92,739.65 399.95,747.90 C398.98,756.15 398.22,765.45 397.35,773.70 C396.48,781.95 395.82,789.52 394.75,797.40 C393.68,805.28 392.63,813.12 390.95,821.00 C389.27,828.88 386.98,836.80 384.65,844.70 C382.32,852.60 379.23,861.35 376.95,868.40 C374.67,875.45 372.38,881.73 370.95,887.00 C369.52,892.27 369.22,895.73 368.35,900.00 C367.48,904.27 366.33,908.40 365.75,912.60 C365.17,916.80 364.88,921.00 364.85,925.20 C364.82,929.40 365.00,933.60 365.55,937.80 C366.10,942.00 367.08,946.22 368.15,950.40 C369.22,954.58 370.47,958.72 371.95,962.90 C373.43,967.08 375.37,971.30 377.05,975.50 C378.73,979.70 380.17,983.90 382.05,988.10 C383.93,992.30 386.13,996.50 388.35,1000.70 C390.57,1004.90 392.83,1009.10 395.35,1013.30 C397.87,1017.50 400.93,1021.70 403.45,1025.90 C405.97,1030.10 408.13,1034.30 410.45,1038.50 C412.77,1042.70 415.47,1047.15 417.35,1051.10 C419.23,1055.05 421.02,1060.35 421.75,1062.20 L448.15,1062.20 C448.88,1060.35 450.67,1055.05 452.55,1051.10 C454.43,1047.15 457.13,1042.70 459.45,1038.50 C461.77,1034.30 463.93,1030.10 466.45,1025.90 C468.97,1021.70 472.03,1017.50 474.55,1013.30 C477.07,1009.10 479.33,1004.90 481.55,1000.70 C483.77,996.50 485.97,992.30 487.85,988.10 C489.73,983.90 491.17,979.70 492.85,975.50 C494.53,971.30 496.47,967.08 497.95,962.90 C499.43,958.72 500.68,954.58 501.75,950.40 C502.82,946.22 503.80,942.00 504.35,937.80 C504.90,933.60 505.08,929.40 505.05,925.20 C505.02,921.00 504.73,916.80 504.15,912.60 C503.57,908.40 502.42,904.27 501.55,900.00 C500.68,895.73 500.38,892.27 498.95,887.00 C497.52,881.73 495.23,875.45 492.95,868.40 C490.67,861.35 487.58,852.60 485.25,844.70 C482.92,836.80 480.63,828.88 478.95,821.00 C477.27,813.12 476.22,805.28 475.15,797.40 C474.08,789.52 473.42,781.95 472.55,773.70 C471.68,765.45 470.92,756.15 469.95,747.90 C468.98,739.65 468.05,732.10 466.75,724.20 C465.45,716.30 463.78,708.38 462.15,700.50 C460.52,692.62 458.73,684.78 456.95,676.90 C455.17,669.02 453.03,660.58 451.45,653.20 C449.87,645.82 448.38,638.50 447.45,632.60 C446.52,626.70 446.33,622.73 445.85,617.80 C445.37,612.87 444.92,607.95 444.55,603.00 C444.18,598.05 443.90,593.05 443.65,588.10 C443.40,583.15 443.22,578.23 443.05,573.30 C442.88,568.37 442.83,563.43 442.65,558.50 C442.47,553.57 442.15,548.63 441.95,543.70 C441.75,538.77 441.65,533.83 441.45,528.90 C441.25,523.97 440.97,519.03 440.75,514.10 C440.53,509.17 440.35,504.25 440.15,499.30 C439.95,494.35 439.77,489.35 439.55,484.40 C439.33,479.45 439.15,474.00 438.85,469.60 C438.55,465.20 438.13,460.40 437.75,458.00 C437.37,455.60 436.75,455.67 436.55,455.20 Z" fill="rgba(255,255,255,0.2)" stroke="#333" stroke-width="3.7" stroke-linejoin="round"/>
<path d="M950.55,368.50 C950.42,369.55 949.93,371.28 949.75,374.80 C949.57,378.32 949.60,384.67 949.45,389.60 C949.30,394.53 949.12,399.45 948.85,404.40 C948.58,409.35 948.20,414.37 947.85,419.30 C947.50,424.23 947.10,429.07 946.75,434.00 C946.40,438.93 946.07,443.95 945.75,448.90 C945.43,453.85 945.15,458.77 944.85,463.70 C944.55,468.63 944.20,473.57 943.95,478.50 C943.70,483.43 943.58,488.37 943.35,493.30 C943.12,498.23 942.78,503.15 942.55,508.10 C942.32,513.05 942.13,518.05 941.95,523.00 C941.77,527.95 941.63,532.87 941.45,537.80 C941.27,542.73 941.10,548.37 940.85,552.60 C940.60,556.83 940.43,557.48 939.95,563.20 C939.47,568.92 938.63,579.02 937.95,586.90 C937.27,594.78 936.72,602.62 935.85,610.50 C934.98,618.38 933.77,626.12 932.75,634.20 C931.73,642.28 930.75,650.75 929.75,659.00 C928.75,667.25 927.83,675.63 926.75,683.70 C925.67,691.77 924.42,699.52 923.25,707.40 C922.08,715.28 920.73,723.12 919.75,731.00 C918.77,738.88 918.15,746.80 917.35,754.70 C916.55,762.60 915.93,770.50 914.95,778.40 C913.97,786.30 913.12,794.20 911.45,802.10 C909.78,810.00 907.20,817.90 904.95,825.80 C902.70,833.70 900.02,841.60 897.95,849.50 C895.88,857.40 894.05,865.30 892.55,873.20 C891.05,881.10 889.63,890.98 888.95,896.90 C888.27,902.82 888.38,904.77 888.45,908.70 C888.52,912.63 888.67,916.02 889.35,920.50 C890.03,924.98 891.47,931.12 892.55,935.60 C893.63,940.08 894.67,943.45 895.85,947.40 C897.03,951.35 898.23,955.35 899.65,959.30 C901.07,963.25 902.62,967.15 904.35,971.10 C906.08,975.05 908.17,979.05 910.05,983.00 C911.93,986.95 913.93,990.85 915.65,994.80 C917.37,998.75 918.77,1002.73 920.35,1006.70 C921.93,1010.67 923.65,1015.20 925.15,1018.60 C926.65,1022.00 928.65,1025.68 929.35,1027.10 L974.55,1027.10 C975.25,1025.68 977.25,1022.00 978.75,1018.60 C980.25,1015.20 981.97,1010.67 983.55,1006.70 C985.13,1002.73 986.53,998.75 988.25,994.80 C989.97,990.85 991.97,986.95 993.85,983.00 C995.73,979.05 997.82,975.05 999.55,971.10 C1001.28,967.15 1002.83,963.25 1004.25,959.30 C1005.67,955.35 1006.87,951.35 1008.05,947.40 C1009.23,943.45 1010.27,940.08 1011.35,935.60 C1012.43,931.12 1013.87,924.98 1014.55,920.50 C1015.23,916.02 1015.38,912.63 1015.45,908.70 C1015.52,904.77 1015.63,902.82 1014.95,896.90 C1014.27,890.98 1012.85,881.10 1011.35,873.20 C1009.85,865.30 1008.02,857.40 1005.95,849.50 C1003.88,841.60 1001.20,833.70 998.95,825.80 C996.70,817.90 994.12,810.00 992.45,802.10 C990.78,794.20 989.93,786.30 988.95,778.40 C987.97,770.50 987.35,762.60 986.55,754.70 C985.75,746.80 985.13,738.88 984.15,731.00 C983.17,723.12 981.82,715.28 980.65,707.40 C979.48,699.52 978.23,691.77 977.15,683.70 C976.07,675.63 975.15,667.25 974.15,659.00 C973.15,650.75 972.17,642.28 971.15,634.20 C970.13,626.12 968.92,618.38 968.05,610.50 C967.18,602.62 966.63,594.78 965.95,586.90 C965.27,579.02 964.43,568.92 963.95,563.20 C963.47,557.48 963.30,556.83 963.05,552.60 C962.80,548.37 962.63,542.73 962.45,537.80 C962.27,532.87 962.13,527.95 961.95,523.00 C961.77,518.05 961.58,513.05 961.35,508.10 C961.12,503.15 960.78,498.23 960.55,493.30 C960.32,488.37 960.20,483.43 959.95,478.50 C959.70,473.57 959.35,468.63 959.05,463.70 C958.75,458.77 958.47,453.85 958.15,448.90 C957.83,443.95 957.50,438.93 957.15,434.00 C956.80,429.07 956.40,424.23 956.05,419.30 C955.70,414.37 955.32,409.35 955.05,404.40 C954.78,399.45 954.60,394.53 954.45,389.60 C954.30,384.67 954.33,378.32 954.15,374.80 C953.97,371.28 953.48,369.55 953.35,368.50 Z" fill="rgba(255,255,255,0.2)" stroke="#333" stroke-width="3.7" stroke-linejoin="round"/>
<path d="M1468.65,74.00 C1468.65,145.00 1468.77,427.00 1468.65,500.00 C1468.53,573.00 1468.08,488.33 1467.95,512.00 C1467.82,535.67 1468.10,619.00 1467.85,642.00 C1467.60,665.00 1466.68,643.33 1466.45,650.00 C1466.22,656.67 1466.23,675.00 1466.45,682.00 C1466.67,689.00 1467.57,685.33 1467.75,692.00 C1467.93,698.67 1467.78,714.55 1467.55,722.00 C1467.32,729.45 1466.83,729.82 1466.35,736.70 C1465.87,743.58 1464.98,757.20 1464.65,763.30 C1464.32,769.40 1464.60,767.18 1464.35,773.30 C1464.10,779.42 1463.62,791.10 1463.15,800.00 C1462.68,808.90 1462.12,817.82 1461.55,826.70 C1460.98,835.58 1460.35,846.63 1459.75,853.30 C1459.15,859.97 1458.67,862.25 1457.95,866.70 C1457.23,871.15 1456.53,875.57 1455.45,880.00 C1454.37,884.43 1453.20,888.85 1451.45,893.30 C1449.70,897.75 1447.45,902.25 1444.95,906.70 C1442.45,911.15 1439.62,915.57 1436.45,920.00 C1433.28,924.43 1429.87,928.62 1425.95,933.30 C1422.03,937.98 1416.18,944.27 1412.95,948.10 C1409.72,951.93 1409.65,952.22 1406.55,956.30 C1403.45,960.38 1398.15,967.17 1394.35,972.60 C1390.55,978.03 1387.95,983.47 1383.75,988.90 C1379.55,994.33 1374.32,999.77 1369.15,1005.20 C1363.98,1010.63 1357.12,1016.60 1352.75,1021.50 C1348.38,1026.40 1345.05,1031.35 1342.95,1034.60 C1340.85,1037.85 1340.82,1038.83 1340.15,1041.00 C1339.48,1043.17 1338.90,1045.43 1338.95,1047.60 C1339.00,1049.77 1339.50,1051.82 1340.45,1054.00 C1341.40,1056.18 1342.03,1057.97 1344.65,1060.70 C1347.27,1063.43 1351.53,1067.15 1356.15,1070.40 C1360.77,1073.65 1366.52,1076.93 1372.35,1080.20 C1378.18,1083.47 1384.38,1086.73 1391.15,1090.00 C1397.92,1093.27 1407.82,1097.22 1412.95,1099.80 C1418.08,1102.38 1419.28,1103.87 1421.95,1105.50 C1424.62,1107.13 1426.70,1108.35 1428.95,1109.60 C1431.20,1110.85 1433.28,1111.77 1435.45,1113.00 C1437.62,1114.23 1440.12,1115.75 1441.95,1117.00 C1443.78,1118.25 1444.95,1119.33 1446.45,1120.50 C1447.95,1121.67 1449.58,1122.83 1450.95,1124.00 C1452.32,1125.17 1453.20,1126.10 1454.65,1127.50 C1456.10,1128.90 1458.43,1130.98 1459.65,1132.40 C1460.87,1133.82 1461.43,1134.97 1461.95,1136.00 C1462.47,1137.03 1462.62,1138.17 1462.75,1138.60 L1475.15,1138.60 C1475.28,1138.17 1475.43,1137.03 1475.95,1136.00 C1476.47,1134.97 1477.03,1133.82 1478.25,1132.40 C1479.47,1130.98 1481.80,1128.90 1483.25,1127.50 C1484.70,1126.10 1485.58,1125.17 1486.95,1124.00 C1488.32,1122.83 1489.95,1121.67 1491.45,1120.50 C1492.95,1119.33 1494.12,1118.25 1495.95,1117.00 C1497.78,1115.75 1500.28,1114.23 1502.45,1113.00 C1504.62,1111.77 1506.70,1110.85 1508.95,1109.60 C1511.20,1108.35 1513.28,1107.13 1515.95,1105.50 C1518.62,1103.87 1519.82,1102.38 1524.95,1099.80 C1530.08,1097.22 1539.98,1093.27 1546.75,1090.00 C1553.52,1086.73 1559.72,1083.47 1565.55,1080.20 C1571.38,1076.93 1577.13,1073.65 1581.75,1070.40 C1586.37,1067.15 1590.63,1063.43 1593.25,1060.70 C1595.87,1057.97 1596.50,1056.18 1597.45,1054.00 C1598.40,1051.82 1598.90,1049.77 1598.95,1047.60 C1599.00,1045.43 1598.42,1043.17 1597.75,1041.00 C1597.08,1038.83 1597.05,1037.85 1594.95,1034.60 C1592.85,1031.35 1589.52,1026.40 1585.15,1021.50 C1580.78,1016.60 1573.92,1010.63 1568.75,1005.20 C1563.58,999.77 1558.35,994.33 1554.15,988.90 C1549.95,983.47 1547.35,978.03 1543.55,972.60 C1539.75,967.17 1534.45,960.38 1531.35,956.30 C1528.25,952.22 1528.18,951.93 1524.95,948.10 C1521.72,944.27 1515.87,937.98 1511.95,933.30 C1508.03,928.62 1504.62,924.43 1501.45,920.00 C1498.28,915.57 1495.45,911.15 1492.95,906.70 C1490.45,902.25 1488.20,897.75 1486.45,893.30 C1484.70,888.85 1483.53,884.43 1482.45,880.00 C1481.37,875.57 1480.67,871.15 1479.95,866.70 C1479.23,862.25 1478.75,859.97 1478.15,853.30 C1477.55,846.63 1476.92,835.58 1476.35,826.70 C1475.78,817.82 1475.22,808.90 1474.75,800.00 C1474.28,791.10 1473.80,779.42 1473.55,773.30 C1473.30,767.18 1473.58,769.40 1473.25,763.30 C1472.92,757.20 1472.03,743.58 1471.55,736.70 C1471.07,729.82 1470.58,729.45 1470.35,722.00 C1470.12,714.55 1469.97,698.67 1470.15,692.00 C1470.33,685.33 1471.23,689.00 1471.45,682.00 C1471.67,675.00 1471.68,656.67 1471.45,650.00 C1471.22,643.33 1470.30,665.00 1470.05,642.00 C1469.80,619.00 1470.08,535.67 1469.95,512.00 C1469.82,488.33 1469.37,573.00 1469.25,500.00 C1469.13,427.00 1469.25,145.00 1469.25,74.00 Z" fill="rgba(255,255,255,0.2)" stroke="#333" stroke-width="3.7" stroke-linejoin="round"/>
<circle cx="434.95" cy="854.5" r="23.3" fill="#8B0000"/>
<circle cx="951.95" cy="822.8" r="23.3" fill="#8B0000"/>
<circle cx="1469.3" cy="998.3" r="23.3" fill="#8B0000"/>
<path d="M532.90,854.5 L438.45,854.5" stroke="#000" stroke-width="3.7" stroke-dasharray="6.5 9.6 18.4 9.6" fill="none"/>
<rect x="530.90" y="820.90" width="221.1" height="67.6" rx="7.5" ry="7.5" fill="#fff" stroke="#000" stroke-width="2.1"/>
<polyline points="546.30,844.80 556.50,836.30 567.60,844.80" fill="none" stroke="#000" stroke-width="2.3"/>
<path transform="translate(0.00,0.00)" fill="#000" d="M549.1,852 L551.9,852 L551.9,862.5 C552.3,866 554.6,866.9 556.6,866.3 C558.4,865.7 559.5,864.3 559.5,862.5 L559.5,852 L563,852 L563,863.8 C563,865.6 564.2,865.8 565.8,864.2 L565.8,865.6 C564.6,867.4 563.4,868 562.2,868 C560.8,868 560,867.1 559.7,865.9 C558.6,867.3 556.8,868.3 554.8,868.3 C553.4,868.3 552.3,867.7 551.5,866.9 C551.6,869.2 551.7,871 551.7,872.8 C551.7,874.2 550.9,875 549.8,875 C548.7,875 548,874.2 548,873 C548,871 549.1,869 549.1,865.5 Z"/>
<text x="566.57" y="875.00" font-family='"Liberation Sans", sans-serif' font-size="25.5" fill="#000" textLength="65.12" lengthAdjust="spacingAndGlyphs">mean</text>
<rect x="639.30" y="854.90" width="19" height="2.2" fill="#000"/>
<rect x="639.30" y="860.90" width="19" height="2.2" fill="#000"/>
<text x="666.86" y="867.90" font-family='"Liberation Sans", sans-serif' font-size="37" fill="#000" textLength="69.94" lengthAdjust="spacingAndGlyphs">5. 0</text><path d="M710.22,867.90 L707.06,867.90 L707.06,848.06 C706.31,848.77 705.31,849.48 704.08,850.19 C702.83,850.90 701.73,851.44 700.74,851.80 L700.74,848.79 C702.52,847.98 704.06,846.98 705.38,845.82 C706.69,844.66 707.62,843.53 708.17,842.44 L710.22,842.44 Z" fill="#000"/>
<path d="M1050.00,822.8 L955.45,822.8" stroke="#000" stroke-width="3.7" stroke-dasharray="6.5 9.6 18.4 9.6" fill="none"/>
<rect x="1048.00" y="789.20" width="221.1" height="67.6" rx="7.5" ry="7.5" fill="#fff" stroke="#000" stroke-width="2.1"/>
<polyline points="1063.40,813.10 1073.60,804.60 1084.70,813.10" fill="none" stroke="#000" stroke-width="2.3"/>
<path transform="translate(517.10,-31.70)" fill="#000" d="M549.1,852 L551.9,852 L551.9,862.5 C552.3,866 554.6,866.9 556.6,866.3 C558.4,865.7 559.5,864.3 559.5,862.5 L559.5,852 L563,852 L563,863.8 C563,865.6 564.2,865.8 565.8,864.2 L565.8,865.6 C564.6,867.4 563.4,868 562.2,868 C560.8,868 560,867.1 559.7,865.9 C558.6,867.3 556.8,868.3 554.8,868.3 C553.4,868.3 552.3,867.7 551.5,866.9 C551.6,869.2 551.7,871 551.7,872.8 C551.7,874.2 550.9,875 549.8,875 C548.7,875 548,874.2 548,873 C548,871 549.1,869 549.1,865.5 Z"/>
<text x="1083.67" y="843.30" font-family='"Liberation Sans", sans-serif' font-size="25.5" fill="#000" textLength="65.12" lengthAdjust="spacingAndGlyphs">mean</text>
<rect x="1156.40" y="823.20" width="19" height="2.2" fill="#000"/>
<rect x="1156.40" y="829.20" width="19" height="2.2" fill="#000"/>
<text x="1183.96" y="836.20" font-family='"Liberation Sans", sans-serif' font-size="37" fill="#000" textLength="69.94" lengthAdjust="spacingAndGlyphs">5.30</text>
<path d="M1545.00,998.3 L1472.80,998.3" stroke="#000" stroke-width="3.7" stroke-dasharray="6.5 9.6 18.4 9.6" fill="none"/>
<rect x="1543.00" y="964.70" width="221.1" height="67.6" rx="7.5" ry="7.5" fill="#fff" stroke="#000" stroke-width="2.1"/>
<polyline points="1558.40,988.60 1568.60,980.10 1579.70,988.60" fill="none" stroke="#000" stroke-width="2.3"/>
<path transform="translate(1012.10,143.80)" fill="#000" d="M549.1,852 L551.9,852 L551.9,862.5 C552.3,866 554.6,866.9 556.6,866.3 C558.4,865.7 559.5,864.3 559.5,862.5 L559.5,852 L563,852 L563,863.8 C563,865.6 564.2,865.8 565.8,864.2 L565.8,865.6 C564.6,867.4 563.4,868 562.2,868 C560.8,868 560,867.1 559.7,865.9 C558.6,867.3 556.8,868.3 554.8,868.3 C553.4,868.3 552.3,867.7 551.5,866.9 C551.6,869.2 551.7,871 551.7,872.8 C551.7,874.2 550.9,875 549.8,875 C548.7,875 548,874.2 548,873 C548,871 549.1,869 549.1,865.5 Z"/>
<text x="1578.67" y="1018.80" font-family='"Liberation Sans", sans-serif' font-size="25.5" fill="#000" textLength="65.12" lengthAdjust="spacingAndGlyphs">mean</text>
<rect x="1651.40" y="998.70" width="19" height="2.2" fill="#000"/>
<rect x="1651.40" y="1004.70" width="19" height="2.2" fill="#000"/>
<text x="1679.58" y="1011.70" font-family='"Liberation Sans", sans-serif' font-size="37" fill="#000" textLength="69.31" lengthAdjust="spacingAndGlyphs">4.20</text>
</svg>
</body></html>
